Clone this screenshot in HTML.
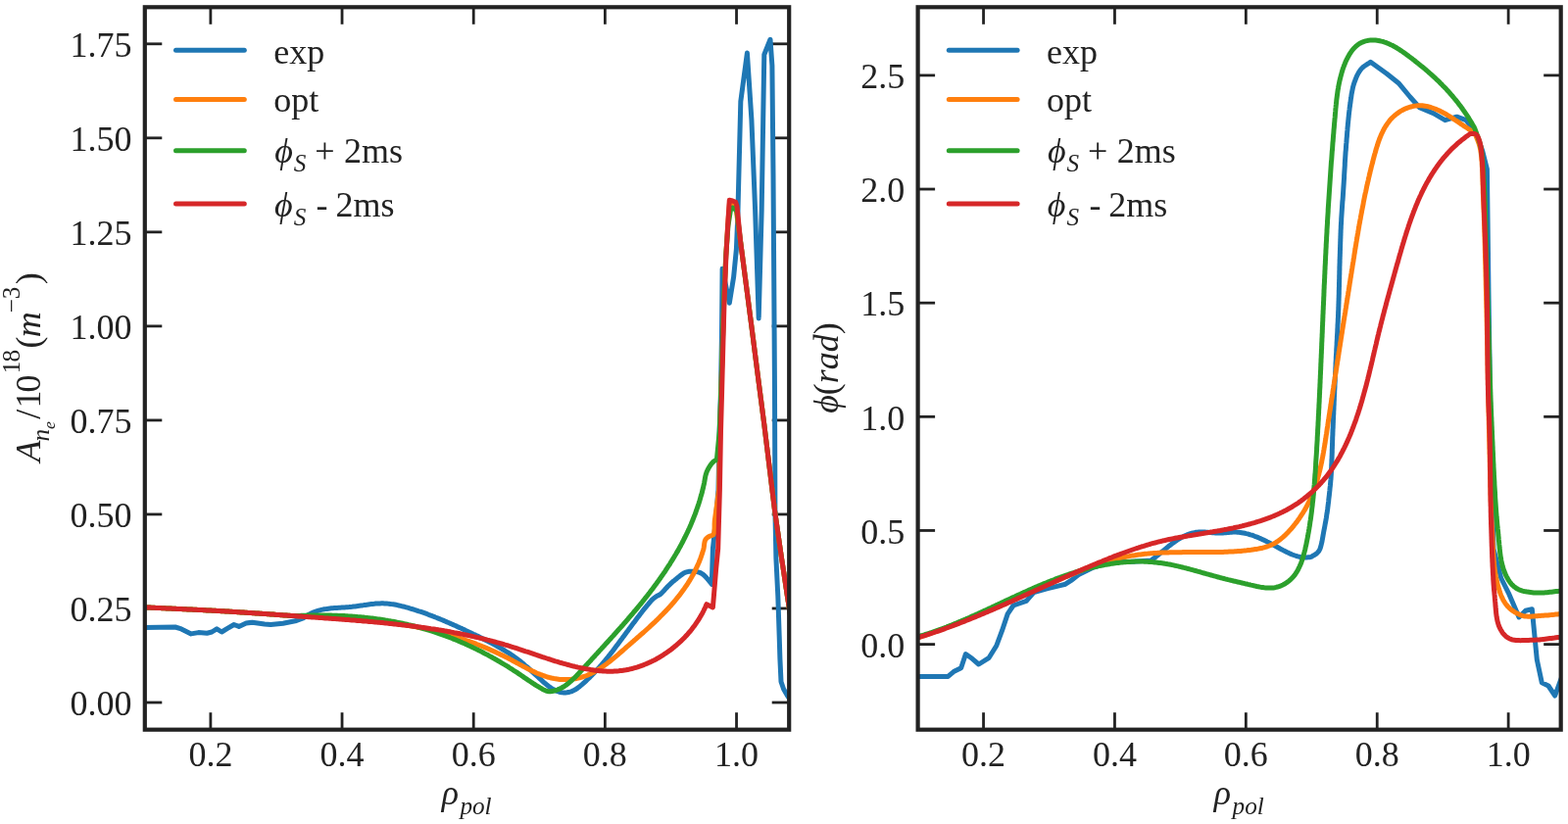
<!DOCTYPE html><html><head><meta charset="utf-8"><title>profiles</title>
<style>html,body{margin:0;padding:0;background:#fff;}svg{display:block;}text{font-family:"Liberation Serif","Times New Roman",serif;fill:#222;}.it{font-style:italic;}</style></head><body>
<svg width="1600" height="841" viewBox="0 0 1600 841">
<rect width="1600" height="841" fill="#fff"/>
<clipPath id="cl"><rect x="147.8" y="7.3" width="657.4000000000001" height="737.4000000000001"/></clipPath>
<clipPath id="cr"><rect x="936.6" y="7.3" width="656.1" height="737.4000000000001"/></clipPath>
<g stroke="#222222" stroke-width="2.8" stroke-linecap="butt">
<line x1="214.88" y1="744.70" x2="214.88" y2="727.20"/>
<line x1="214.88" y1="7.30" x2="214.88" y2="24.80"/>
<line x1="349.04" y1="744.70" x2="349.04" y2="727.20"/>
<line x1="349.04" y1="7.30" x2="349.04" y2="24.80"/>
<line x1="483.21" y1="744.70" x2="483.21" y2="727.20"/>
<line x1="483.21" y1="7.30" x2="483.21" y2="24.80"/>
<line x1="617.37" y1="744.70" x2="617.37" y2="727.20"/>
<line x1="617.37" y1="7.30" x2="617.37" y2="24.80"/>
<line x1="751.53" y1="744.70" x2="751.53" y2="727.20"/>
<line x1="751.53" y1="7.30" x2="751.53" y2="24.80"/>
<line x1="147.80" y1="717.00" x2="165.30" y2="717.00"/>
<line x1="805.20" y1="717.00" x2="787.70" y2="717.00"/>
<line x1="147.80" y1="620.97" x2="165.30" y2="620.97"/>
<line x1="805.20" y1="620.97" x2="787.70" y2="620.97"/>
<line x1="147.80" y1="524.94" x2="165.30" y2="524.94"/>
<line x1="805.20" y1="524.94" x2="787.70" y2="524.94"/>
<line x1="147.80" y1="428.91" x2="165.30" y2="428.91"/>
<line x1="805.20" y1="428.91" x2="787.70" y2="428.91"/>
<line x1="147.80" y1="332.88" x2="165.30" y2="332.88"/>
<line x1="805.20" y1="332.88" x2="787.70" y2="332.88"/>
<line x1="147.80" y1="236.85" x2="165.30" y2="236.85"/>
<line x1="805.20" y1="236.85" x2="787.70" y2="236.85"/>
<line x1="147.80" y1="140.82" x2="165.30" y2="140.82"/>
<line x1="805.20" y1="140.82" x2="787.70" y2="140.82"/>
<line x1="147.80" y1="44.79" x2="165.30" y2="44.79"/>
<line x1="805.20" y1="44.79" x2="787.70" y2="44.79"/>
<line x1="1003.55" y1="744.70" x2="1003.55" y2="727.20"/>
<line x1="1003.55" y1="7.30" x2="1003.55" y2="24.80"/>
<line x1="1137.45" y1="744.70" x2="1137.45" y2="727.20"/>
<line x1="1137.45" y1="7.30" x2="1137.45" y2="24.80"/>
<line x1="1271.34" y1="744.70" x2="1271.34" y2="727.20"/>
<line x1="1271.34" y1="7.30" x2="1271.34" y2="24.80"/>
<line x1="1405.24" y1="744.70" x2="1405.24" y2="727.20"/>
<line x1="1405.24" y1="7.30" x2="1405.24" y2="24.80"/>
<line x1="1539.14" y1="744.70" x2="1539.14" y2="727.20"/>
<line x1="1539.14" y1="7.30" x2="1539.14" y2="24.80"/>
<line x1="936.60" y1="657.60" x2="954.10" y2="657.60"/>
<line x1="1592.70" y1="657.60" x2="1575.20" y2="657.60"/>
<line x1="936.60" y1="541.46" x2="954.10" y2="541.46"/>
<line x1="1592.70" y1="541.46" x2="1575.20" y2="541.46"/>
<line x1="936.60" y1="425.32" x2="954.10" y2="425.32"/>
<line x1="1592.70" y1="425.32" x2="1575.20" y2="425.32"/>
<line x1="936.60" y1="309.18" x2="954.10" y2="309.18"/>
<line x1="1592.70" y1="309.18" x2="1575.20" y2="309.18"/>
<line x1="936.60" y1="193.04" x2="954.10" y2="193.04"/>
<line x1="1592.70" y1="193.04" x2="1575.20" y2="193.04"/>
<line x1="936.60" y1="76.90" x2="954.10" y2="76.90"/>
<line x1="1592.70" y1="76.90" x2="1575.20" y2="76.90"/>
</g>
<g clip-path="url(#cl)">
<path d="M147.0,640.6 L178.8,640.0 L185.0,641.9 L195.0,646.9 L202.5,645.6 L211.2,646.2 L216.2,645.0 L221.2,641.9 L226.2,645.0 L232.5,641.2 L238.8,637.5 L243.8,639.4 L251.2,636.0 L257.5,635.2 L270.0,636.9 L276.2,637.5 L288.8,636.2 L301.2,633.8 L310.0,630.6 L311.3,629.6 L312.6,628.7 L314.0,627.9 L315.3,627.1 L316.6,626.4 L318.0,625.7 L319.4,625.1 L320.8,624.6 L322.2,624.1 L323.6,623.6 L325.0,623.2 L326.4,622.8 L327.9,622.4 L329.3,622.1 L330.8,621.8 L332.2,621.6 L333.7,621.4 L335.2,621.2 L336.7,621.0 L338.2,620.8 L339.6,620.7 L341.1,620.6 L342.6,620.5 L344.1,620.4 L345.7,620.3 L347.2,620.2 L348.7,620.1 L350.2,620.0 L351.7,619.9 L353.2,619.8 L354.7,619.7 L356.3,619.6 L357.8,619.4 L359.3,619.3 L360.8,619.1 L362.3,618.9 L363.8,618.7 L365.3,618.5 L366.8,618.3 L368.4,618.1 L369.9,617.9 L371.4,617.6 L372.9,617.4 L374.4,617.2 L375.9,617.0 L377.4,616.8 L378.9,616.6 L380.4,616.4 L381.9,616.3 L383.4,616.1 L384.9,616.0 L386.4,615.9 L387.8,615.9 L389.3,615.8 L390.8,615.8 L392.3,615.9 L393.8,615.9 L395.3,616.1 L396.8,616.2 L398.3,616.4 L399.7,616.6 L401.2,616.8 L402.7,617.0 L404.2,617.3 L405.6,617.6 L407.1,618.0 L408.6,618.3 L410.0,618.7 L411.5,619.0 L413.0,619.4 L414.4,619.8 L415.9,620.2 L417.3,620.6 L418.8,621.1 L420.2,621.5 L421.6,621.9 L423.1,622.4 L424.5,622.8 L426.0,623.3 L427.4,623.8 L428.8,624.2 L430.2,624.7 L431.7,625.2 L433.1,625.7 L434.5,626.2 L435.9,626.7 L437.3,627.3 L438.7,627.8 L440.1,628.3 L441.5,628.9 L442.9,629.4 L444.3,630.0 L445.7,630.5 L447.1,631.1 L448.5,631.6 L449.9,632.2 L451.3,632.8 L452.7,633.4 L454.1,634.0 L455.5,634.6 L456.9,635.2 L458.3,635.8 L459.6,636.4 L461.0,637.0 L462.4,637.6 L463.8,638.2 L465.2,638.8 L466.5,639.5 L467.9,640.1 L469.3,640.7 L470.7,641.3 L472.0,642.0 L473.4,642.6 L474.8,643.3 L476.1,643.9 L477.5,644.6 L478.9,645.2 L480.2,645.9 L481.6,646.5 L483.0,647.2 L484.4,647.8 L485.7,648.5 L487.1,649.1 L488.5,649.8 L489.8,650.5 L491.2,651.1 L492.5,651.8 L493.9,652.5 L495.3,653.2 L496.6,653.9 L498.0,654.5 L499.3,655.2 L500.6,655.9 L502.0,656.6 L503.3,657.4 L504.6,658.1 L506.0,658.8 L507.3,659.5 L508.6,660.3 L509.9,661.0 L511.2,661.7 L512.5,662.5 L513.8,663.3 L515.1,664.0 L516.3,664.8 L517.6,665.6 L518.9,666.4 L520.1,667.2 L521.4,668.1 L522.6,668.9 L523.8,669.7 L525.0,670.6 L526.2,671.4 L527.4,672.3 L528.6,673.2 L529.8,674.1 L531.0,675.0 L532.1,675.9 L533.3,676.9 L534.4,677.8 L535.5,678.8 L536.7,679.8 L537.8,680.7 L538.9,681.7 L540.0,682.7 L541.1,683.7 L542.2,684.8 L543.4,685.8 L544.5,686.8 L545.6,687.9 L546.7,688.9 L547.9,690.0 L549.0,691.0 L550.2,692.1 L551.4,693.2 L552.5,694.2 L553.7,695.3 L554.9,696.4 L556.2,697.4 L557.4,698.5 L558.7,699.5 L559.9,700.4 L561.2,701.4 L562.5,702.3 L563.8,703.1 L565.1,703.8 L566.4,704.5 L567.7,705.2 L569.0,705.7 L570.4,706.1 L571.7,706.5 L573.1,706.7 L574.5,706.9 L575.9,706.9 L577.2,706.9 L578.6,706.8 L580.0,706.5 L581.3,706.2 L582.7,705.8 L584.0,705.3 L585.3,704.7 L586.6,704.1 L587.8,703.3 L589.1,702.5 L590.3,701.6 L591.5,700.7 L592.7,699.7 L593.9,698.7 L595.0,697.7 L596.2,696.6 L597.3,695.6 L598.4,694.6 L599.5,693.5 L600.6,692.5 L601.7,691.4 L602.8,690.3 L603.9,689.2 L605.0,688.1 L606.0,687.0 L607.1,685.9 L608.1,684.8 L609.1,683.7 L610.2,682.6 L611.2,681.5 L612.2,680.3 L613.2,679.2 L614.2,678.0 L615.2,676.9 L616.1,675.7 L617.1,674.6 L618.1,673.4 L619.0,672.2 L620.0,671.1 L620.9,669.9 L621.9,668.7 L622.8,667.5 L623.7,666.3 L624.7,665.1 L625.6,663.9 L626.5,662.7 L627.4,661.5 L628.3,660.3 L629.2,659.1 L630.1,657.9 L631.0,656.7 L631.9,655.5 L632.8,654.3 L633.7,653.1 L634.6,651.9 L635.5,650.6 L636.4,649.4 L637.3,648.2 L638.2,647.0 L639.1,645.8 L640.0,644.6 L640.9,643.4 L641.8,642.1 L642.7,640.9 L643.6,639.7 L644.5,638.5 L645.4,637.3 L646.3,636.1 L647.2,634.9 L648.1,633.7 L649.0,632.5 L649.9,631.3 L650.8,630.1 L651.7,628.9 L652.6,627.7 L653.5,626.5 L654.5,625.3 L655.4,624.1 L656.3,622.9 L657.3,621.7 L658.2,620.6 L659.2,619.4 L660.1,618.2 L661.1,617.1 L662.1,615.9 L663.0,614.8 L664.0,613.6 L665.0,612.5 L666.5,611.2 L668.0,609.9 L669.5,608.8 L670.9,608.0 L672.4,607.4 L673.9,606.5 L674.9,605.6 L675.9,604.6 L677.0,603.4 L678.1,602.2 L679.2,600.9 L680.3,599.7 L681.4,598.5 L682.6,597.4 L683.7,596.3 L684.9,595.2 L686.1,594.1 L687.4,593.1 L688.6,592.0 L689.9,591.0 L691.2,589.9 L692.6,588.8 L694.0,587.6 L695.4,586.6 L696.8,585.6 L698.2,584.7 L699.6,584.1 L701.5,583.6 L703.3,583.3 L705.1,583.2 L707.0,583.3 L708.7,583.4 L710.5,583.6 L712.3,583.9 L714.0,584.4 L715.6,585.1 L717.0,586.0 L718.4,587.2 L719.7,588.4 L720.9,589.7 L722.0,591.0 L723.2,592.3 L724.2,593.7 L725.3,595.0 L726.3,596.4 L727.4,560.0 L729.0,545.0 L733.0,500.0 L734.2,440.0 L735.5,400.0 L736.5,340.0 L737.1,274.3 L744.3,309.3 L748.6,282.9 L751.4,254.3 L752.9,218.6 L753.6,190.0 L755.8,103.7 L762.4,54.0 L766.9,122.2 L770.6,214.3 L774.2,324.9 L777.2,214.3 L778.7,122.2 L779.8,55.8 L786.0,40.3 L787.9,66.9 L789.0,177.5 L790.1,337.8 L790.5,400.0 L790.9,520.4 L791.9,570.0 L793.8,608.0 L795.2,649.5 L795.9,672.1 L797.0,695.7 L799.6,703.2 L803.9,710.7 L806.5,714.5" fill="none" stroke="#1f77b4" stroke-width="5.0" stroke-linejoin="round" stroke-linecap="butt"/>
<path d="M147.0,619.8 L148.5,619.9 L150.0,619.9 L151.5,620.0 L153.1,620.1 L154.6,620.2 L156.1,620.2 L157.6,620.3 L159.1,620.4 L160.7,620.5 L162.2,620.5 L163.7,620.6 L165.2,620.7 L166.8,620.7 L168.3,620.8 L169.8,620.9 L171.4,621.0 L172.9,621.0 L174.4,621.1 L176.0,621.2 L177.5,621.2 L179.0,621.3 L180.5,621.4 L182.1,621.5 L183.6,621.5 L185.1,621.6 L186.7,621.7 L188.2,621.7 L189.7,621.8 L191.2,621.9 L192.8,622.0 L194.3,622.0 L195.8,622.1 L197.3,622.2 L198.8,622.3 L200.3,622.3 L201.9,622.4 L203.4,622.5 L204.9,622.6 L206.4,622.6 L207.9,622.7 L209.4,622.8 L210.9,622.9 L212.4,622.9 L213.9,623.0 L215.3,623.1 L216.8,623.2 L218.3,623.2 L219.8,623.3 L221.3,623.4 L222.7,623.5 L224.2,623.6 L225.6,623.7 L227.1,623.7 L228.6,623.8 L230.0,623.9 L231.6,624.0 L233.2,624.1 L234.7,624.2 L236.3,624.3 L237.9,624.4 L239.4,624.5 L241.0,624.6 L242.5,624.7 L244.1,624.8 L245.6,624.9 L247.2,625.0 L248.7,625.1 L250.2,625.2 L251.7,625.3 L253.3,625.4 L254.8,625.5 L256.3,625.6 L257.8,625.7 L259.3,625.8 L260.9,625.9 L262.4,626.0 L263.9,626.1 L265.4,626.2 L266.9,626.3 L268.4,626.4 L269.9,626.5 L271.4,626.6 L272.9,626.7 L274.4,626.8 L275.9,626.9 L277.4,627.0 L278.9,627.1 L280.4,627.2 L281.9,627.4 L283.4,627.5 L284.9,627.6 L286.4,627.7 L287.9,627.8 L289.4,627.9 L290.9,628.0 L292.4,628.1 L293.9,628.2 L295.4,628.3 L297.0,628.4 L298.5,628.5 L300.0,628.6 L301.5,628.6 L303.0,628.7 L304.6,628.7 L306.1,628.7 L307.6,628.8 L309.1,628.8 L310.7,628.8 L312.2,628.9 L313.7,628.9 L315.2,629.0 L316.7,629.0 L318.3,629.1 L319.8,629.1 L321.3,629.2 L322.8,629.2 L324.3,629.3 L325.8,629.3 L327.4,629.4 L328.9,629.5 L330.4,629.5 L331.9,629.6 L333.4,629.7 L334.9,629.7 L336.5,629.8 L338.0,629.9 L339.5,630.0 L341.0,630.0 L342.5,630.1 L344.0,630.2 L345.5,630.3 L347.0,630.4 L348.6,630.5 L350.1,630.6 L351.6,630.7 L353.1,630.8 L354.6,630.9 L356.1,631.0 L357.6,631.1 L359.1,631.2 L360.6,631.3 L362.1,631.5 L363.6,631.6 L365.1,631.7 L366.6,631.8 L368.1,632.0 L369.6,632.1 L371.1,632.2 L372.6,632.4 L374.1,632.5 L375.6,632.7 L377.1,632.8 L378.6,633.0 L380.1,633.2 L381.6,633.3 L383.1,633.5 L384.6,633.7 L386.1,633.8 L387.6,634.0 L389.1,634.2 L390.6,634.4 L392.1,634.6 L393.6,634.8 L395.1,635.0 L396.5,635.2 L398.0,635.4 L399.5,635.6 L401.0,635.8 L402.5,636.0 L404.0,636.2 L405.5,636.5 L406.9,636.7 L408.4,636.9 L409.9,637.2 L411.4,637.4 L412.8,637.7 L414.3,637.9 L415.8,638.2 L417.3,638.5 L418.7,638.7 L420.2,639.0 L421.7,639.3 L423.2,639.6 L424.6,639.9 L426.1,640.2 L427.6,640.4 L429.0,640.8 L430.5,641.1 L431.9,641.4 L433.4,641.7 L434.9,642.0 L436.3,642.3 L437.8,642.7 L439.2,643.0 L440.7,643.4 L442.1,643.7 L443.6,644.1 L445.1,644.4 L446.5,644.8 L448.0,645.2 L449.4,645.5 L450.8,645.9 L452.3,646.3 L453.7,646.7 L455.2,647.1 L456.6,647.5 L458.1,647.9 L459.5,648.4 L460.9,648.8 L462.4,649.2 L463.8,649.6 L465.2,650.1 L466.7,650.5 L468.1,651.0 L469.5,651.5 L470.9,651.9 L472.4,652.4 L473.8,652.9 L475.2,653.4 L476.6,653.8 L478.1,654.3 L479.5,654.9 L480.9,655.4 L482.3,655.9 L483.7,656.4 L485.1,656.9 L486.5,657.5 L487.9,658.0 L489.3,658.6 L490.7,659.1 L492.2,659.7 L493.6,660.3 L495.0,660.9 L496.3,661.4 L497.7,662.0 L499.1,662.6 L500.5,663.2 L501.9,663.9 L503.3,664.5 L504.7,665.1 L506.1,665.7 L507.5,666.4 L508.8,667.0 L510.2,667.7 L511.6,668.4 L513.0,669.0 L514.4,669.7 L515.7,670.4 L517.1,671.1 L518.5,671.8 L519.8,672.5 L521.2,673.2 L522.6,674.0 L523.9,674.7 L525.3,675.4 L526.6,676.2 L528.0,676.9 L529.4,677.7 L530.7,678.4 L532.1,679.1 L533.4,679.9 L534.8,680.6 L536.2,681.3 L537.5,682.0 L538.9,682.7 L540.3,683.4 L541.6,684.1 L543.0,684.8 L544.4,685.4 L545.8,686.0 L547.1,686.7 L548.5,687.3 L549.9,687.8 L551.3,688.4 L552.7,688.9 L554.1,689.5 L555.5,689.9 L556.9,690.4 L558.3,690.8 L559.7,691.3 L561.2,691.6 L562.6,692.0 L564.0,692.3 L565.5,692.6 L566.9,692.8 L568.4,693.0 L569.8,693.2 L571.3,693.4 L572.8,693.5 L574.2,693.5 L575.7,693.6 L577.2,693.6 L578.6,693.6 L580.1,693.5 L581.6,693.4 L583.0,693.3 L584.5,693.1 L585.9,692.9 L587.3,692.7 L588.8,692.4 L590.2,692.1 L591.6,691.7 L593.0,691.4 L594.4,690.9 L595.8,690.5 L597.2,690.0 L598.6,689.5 L599.9,688.9 L601.3,688.3 L602.6,687.7 L603.9,687.1 L605.2,686.4 L606.6,685.7 L607.9,684.9 L609.2,684.2 L610.4,683.4 L611.7,682.6 L613.0,681.8 L614.2,680.9 L615.5,680.1 L616.7,679.2 L618.0,678.3 L619.2,677.4 L620.4,676.4 L621.7,675.5 L622.9,674.5 L624.1,673.5 L625.3,672.6 L626.5,671.6 L627.7,670.6 L628.9,669.6 L630.1,668.6 L631.3,667.6 L632.4,666.5 L633.6,665.5 L634.8,664.5 L636.0,663.5 L637.1,662.5 L638.3,661.4 L639.4,660.4 L640.6,659.4 L641.8,658.4 L642.9,657.4 L644.1,656.4 L645.2,655.4 L646.4,654.4 L647.5,653.4 L648.7,652.4 L649.8,651.4 L650.9,650.4 L652.1,649.4 L653.2,648.4 L654.3,647.4 L655.4,646.5 L656.6,645.5 L657.7,644.5 L658.8,643.5 L659.9,642.5 L661.0,641.5 L662.1,640.5 L663.2,639.4 L664.3,638.4 L665.4,637.4 L666.5,636.4 L667.6,635.4 L668.6,634.4 L669.7,633.3 L670.8,632.3 L671.9,631.2 L672.9,630.2 L674.0,629.1 L675.0,628.1 L676.1,627.0 L677.1,625.9 L678.2,624.9 L679.2,623.8 L680.2,622.7 L681.3,621.6 L682.3,620.5 L683.3,619.4 L684.3,618.3 L685.3,617.1 L686.3,616.0 L687.3,614.9 L688.2,613.7 L689.2,612.6 L690.1,611.4 L691.1,610.3 L692.0,609.1 L693.0,607.9 L693.9,606.7 L694.8,605.5 L695.7,604.3 L696.6,603.1 L697.4,601.9 L698.3,600.7 L699.2,599.4 L700.0,598.2 L700.9,597.0 L701.7,595.7 L702.5,594.4 L703.3,593.2 L704.1,591.9 L704.8,590.6 L705.6,589.3 L706.3,588.0 L707.1,586.7 L707.8,585.4 L708.5,584.0 L709.2,582.7 L709.8,581.3 L710.5,580.0 L711.1,578.6 L711.8,577.2 L712.4,575.8 L713.0,574.5 L713.6,573.1 L714.1,571.6 L714.7,570.2 L715.2,568.8 L715.7,567.3 L716.2,565.9 L716.7,564.4 L717.1,563.0 L717.6,561.5 L718.0,560.0 L718.3,558.4 L718.5,556.6 L718.7,554.9 L719.0,553.2 L719.4,551.8 L720.0,550.5 L721.3,549.1 L722.8,548.0 L724.3,547.1 L726.2,546.6 L727.9,545.7 L728.4,544.8 L728.7,543.5 L728.9,542.1 L729.0,540.4 L729.1,538.6 L729.1,536.7 L729.1,534.9 L729.2,533.1 L729.3,531.4 L733.6,500.0 L734.7,440.0 L735.8,400.0 L737.3,350.0 L738.6,309.3 L740.7,261.4 L742.9,227.0 L744.5,207.0 L747.5,207.5 L750.5,209.0 L755.7,247.1 L762.6,300.0 L768.0,341.7 L773.3,383.3 L779.8,433.3 L790.4,520.0 L797.6,570.0 L800.5,589.0 L803.3,608.0 L806.5,628.0" fill="none" stroke="#ff7f0e" stroke-width="5.0" stroke-linejoin="round" stroke-linecap="butt"/>
<path d="M147.0,619.8 L148.5,619.9 L150.0,619.9 L151.5,620.0 L153.1,620.1 L154.6,620.2 L156.1,620.2 L157.6,620.3 L159.1,620.4 L160.7,620.5 L162.2,620.5 L163.7,620.6 L165.2,620.7 L166.8,620.7 L168.3,620.8 L169.8,620.9 L171.4,621.0 L172.9,621.0 L174.4,621.1 L176.0,621.2 L177.5,621.2 L179.0,621.3 L180.5,621.4 L182.1,621.5 L183.6,621.5 L185.1,621.6 L186.7,621.7 L188.2,621.7 L189.7,621.8 L191.2,621.9 L192.8,622.0 L194.3,622.0 L195.8,622.1 L197.3,622.2 L198.8,622.3 L200.3,622.3 L201.9,622.4 L203.4,622.5 L204.9,622.6 L206.4,622.6 L207.9,622.7 L209.4,622.8 L210.9,622.9 L212.4,622.9 L213.9,623.0 L215.3,623.1 L216.8,623.2 L218.3,623.2 L219.8,623.3 L221.3,623.4 L222.7,623.5 L224.2,623.6 L225.6,623.7 L227.1,623.7 L228.6,623.8 L230.0,623.9 L231.6,624.0 L233.2,624.1 L234.7,624.2 L236.3,624.3 L237.9,624.4 L239.4,624.5 L241.0,624.6 L242.5,624.7 L244.1,624.8 L245.6,624.9 L247.2,625.0 L248.7,625.1 L250.2,625.2 L251.7,625.3 L253.3,625.4 L254.8,625.5 L256.3,625.6 L257.8,625.7 L259.3,625.8 L260.9,625.9 L262.4,626.0 L263.9,626.1 L265.4,626.2 L266.9,626.3 L268.4,626.4 L269.9,626.5 L271.4,626.6 L272.9,626.7 L274.4,626.8 L275.9,626.9 L277.4,627.0 L278.9,627.1 L280.4,627.2 L281.9,627.4 L283.4,627.5 L284.9,627.6 L286.4,627.7 L287.9,627.8 L289.4,627.9 L290.9,628.0 L292.4,628.1 L293.9,628.2 L295.4,628.3 L297.0,628.4 L298.5,628.5 L300.0,628.6 L301.5,628.5 L303.0,628.5 L304.5,628.4 L306.0,628.4 L307.6,628.3 L309.1,628.3 L310.6,628.2 L312.1,628.2 L313.6,628.1 L315.1,628.1 L316.6,628.1 L318.1,628.1 L319.6,628.0 L321.2,628.0 L322.7,628.0 L324.2,628.0 L325.7,628.0 L327.2,628.0 L328.7,628.0 L330.2,628.0 L331.7,628.0 L333.2,628.0 L334.7,628.1 L336.3,628.1 L337.8,628.1 L339.3,628.2 L340.8,628.2 L342.3,628.3 L343.8,628.3 L345.3,628.4 L346.8,628.4 L348.3,628.5 L349.8,628.6 L351.3,628.6 L352.8,628.7 L354.3,628.8 L355.8,628.9 L357.3,629.0 L358.8,629.1 L360.3,629.2 L361.8,629.3 L363.3,629.4 L364.8,629.6 L366.3,629.7 L367.8,629.8 L369.3,630.0 L370.8,630.1 L372.3,630.3 L373.8,630.4 L375.3,630.6 L376.8,630.7 L378.3,630.9 L379.8,631.1 L381.3,631.3 L382.8,631.5 L384.3,631.7 L385.7,631.9 L387.2,632.1 L388.7,632.3 L390.2,632.5 L391.7,632.7 L393.2,633.0 L394.7,633.2 L396.1,633.5 L397.6,633.7 L399.1,634.0 L400.6,634.2 L402.0,634.5 L403.5,634.8 L405.0,635.1 L406.5,635.4 L407.9,635.7 L409.4,636.0 L410.9,636.3 L412.3,636.6 L413.8,636.9 L415.3,637.2 L416.7,637.6 L418.2,637.9 L419.7,638.3 L421.1,638.6 L422.6,639.0 L424.0,639.4 L425.5,639.7 L426.9,640.1 L428.4,640.5 L429.8,640.9 L431.3,641.3 L432.7,641.8 L434.2,642.2 L435.6,642.6 L437.0,643.0 L438.5,643.5 L439.9,643.9 L441.4,644.4 L442.8,644.9 L444.2,645.3 L445.7,645.8 L447.1,646.3 L448.5,646.8 L449.9,647.3 L451.4,647.8 L452.8,648.3 L454.2,648.8 L455.6,649.4 L457.0,649.9 L458.4,650.4 L459.8,651.0 L461.2,651.5 L462.6,652.1 L464.0,652.7 L465.4,653.2 L466.8,653.8 L468.2,654.4 L469.6,655.0 L471.0,655.6 L472.4,656.2 L473.8,656.8 L475.2,657.4 L476.6,658.1 L477.9,658.7 L479.3,659.3 L480.7,660.0 L482.1,660.6 L483.4,661.3 L484.8,661.9 L486.1,662.6 L487.5,663.3 L488.9,664.0 L490.2,664.6 L491.6,665.3 L492.9,666.0 L494.2,666.7 L495.6,667.4 L496.9,668.1 L498.3,668.8 L499.6,669.6 L500.9,670.3 L502.2,671.0 L503.6,671.8 L504.9,672.5 L506.2,673.3 L507.5,674.0 L508.8,674.8 L510.1,675.5 L511.4,676.3 L512.7,677.1 L514.0,677.9 L515.3,678.6 L516.6,679.4 L517.9,680.2 L519.2,681.0 L520.4,681.8 L521.7,682.6 L523.0,683.4 L524.2,684.3 L525.5,685.1 L526.8,685.9 L528.0,686.7 L529.3,687.6 L530.5,688.4 L531.8,689.3 L533.0,690.1 L534.2,691.0 L535.5,691.8 L536.7,692.7 L538.0,693.5 L539.2,694.4 L540.5,695.2 L541.7,696.0 L543.0,696.9 L544.2,697.7 L545.5,698.5 L546.8,699.3 L548.1,700.1 L549.4,700.9 L550.7,701.7 L552.0,702.4 L553.3,703.2 L554.7,703.9 L556.0,704.5 L557.4,705.1 L558.8,705.5 L560.3,705.7 L561.7,705.8 L563.2,705.6 L564.6,705.3 L566.0,704.9 L567.5,704.5 L568.8,704.0 L570.2,703.4 L571.5,702.8 L572.8,702.2 L574.0,701.5 L575.3,700.8 L576.5,700.0 L577.7,699.2 L578.8,698.3 L580.0,697.4 L581.1,696.5 L582.2,695.5 L583.3,694.6 L584.4,693.5 L585.5,692.5 L586.6,691.5 L587.6,690.4 L588.7,689.3 L589.7,688.2 L590.8,687.1 L591.8,686.0 L592.8,684.9 L593.8,683.8 L594.9,682.6 L595.9,681.5 L596.9,680.4 L597.9,679.3 L599.0,678.1 L600.0,677.0 L601.0,675.9 L602.1,674.8 L603.1,673.7 L604.1,672.5 L605.1,671.4 L606.2,670.3 L607.2,669.2 L608.2,668.0 L609.3,666.9 L610.3,665.8 L611.3,664.7 L612.3,663.5 L613.4,662.4 L614.4,661.3 L615.4,660.2 L616.5,659.1 L617.5,657.9 L618.5,656.8 L619.5,655.7 L620.6,654.5 L621.6,653.4 L622.6,652.3 L623.6,651.2 L624.6,650.0 L625.7,648.9 L626.7,647.8 L627.7,646.6 L628.7,645.5 L629.7,644.4 L630.7,643.2 L631.7,642.1 L632.8,641.0 L633.8,639.8 L634.8,638.7 L635.8,637.6 L636.8,636.4 L637.8,635.3 L638.8,634.1 L639.8,633.0 L640.8,631.8 L641.7,630.7 L642.7,629.5 L643.7,628.4 L644.7,627.2 L645.7,626.1 L646.6,624.9 L647.6,623.8 L648.6,622.6 L649.6,621.5 L650.5,620.3 L651.5,619.1 L652.4,618.0 L653.4,616.8 L654.4,615.6 L655.3,614.5 L656.2,613.3 L657.2,612.1 L658.1,610.9 L659.1,609.7 L660.0,608.6 L660.9,607.4 L661.8,606.2 L662.8,605.0 L663.7,603.8 L664.6,602.6 L665.5,601.4 L666.4,600.2 L667.3,599.0 L668.2,597.8 L669.1,596.6 L670.0,595.4 L670.8,594.2 L671.7,593.0 L672.6,591.8 L673.5,590.6 L674.3,589.3 L675.2,588.1 L676.0,586.9 L676.9,585.6 L677.7,584.4 L678.6,583.2 L679.4,581.9 L680.2,580.7 L681.0,579.4 L681.8,578.2 L682.6,576.9 L683.5,575.7 L684.2,574.4 L685.0,573.2 L685.8,571.9 L686.6,570.6 L687.4,569.4 L688.1,568.1 L688.9,566.8 L689.7,565.5 L690.4,564.2 L691.2,563.0 L691.9,561.7 L692.6,560.4 L693.3,559.1 L694.1,557.8 L694.8,556.4 L695.5,555.1 L696.2,553.8 L696.9,552.5 L697.5,551.2 L698.2,549.8 L698.9,548.5 L699.5,547.2 L700.2,545.8 L700.8,544.5 L701.5,543.1 L702.1,541.8 L702.7,540.4 L703.4,539.1 L704.0,537.7 L704.6,536.3 L705.2,534.9 L705.7,533.6 L706.3,532.2 L706.9,530.8 L707.4,529.4 L708.0,528.0 L708.5,526.6 L709.1,525.2 L709.6,523.8 L710.1,522.4 L710.6,520.9 L711.1,519.5 L711.6,518.1 L712.1,516.6 L712.6,515.2 L713.1,513.7 L713.5,512.3 L714.0,510.8 L714.4,509.4 L714.8,507.9 L715.2,506.4 L715.7,504.9 L716.1,503.5 L716.5,502.0 L716.8,500.5 L717.2,499.0 L717.6,497.5 L717.9,495.9 L718.3,494.4 L718.6,492.9 L718.9,491.2 L719.2,489.5 L719.5,487.8 L719.8,486.1 L720.2,484.5 L720.7,482.9 L721.3,481.3 L722.0,479.8 L722.7,478.4 L723.5,477.0 L724.3,475.7 L725.3,474.3 L726.4,472.9 L727.5,471.7 L728.6,470.7 L730.0,469.9 L731.4,469.3 L734.2,440.0 L735.8,400.0 L737.4,350.0 L738.9,300.0 L740.8,260.0 L743.0,230.0 L745.5,214.0 L747.5,212.0 L749.5,213.0 L752.0,216.0 L755.7,247.1 L762.6,300.0 L768.0,341.7 L773.3,383.3 L779.8,433.3 L790.4,520.0 L797.6,570.0 L800.5,589.0 L803.3,608.0 L806.5,628.0" fill="none" stroke="#2ca02c" stroke-width="5.0" stroke-linejoin="round" stroke-linecap="butt"/>
<path d="M147.0,619.8 L148.5,619.9 L150.0,619.9 L151.5,620.0 L153.1,620.1 L154.6,620.2 L156.1,620.2 L157.6,620.3 L159.1,620.4 L160.7,620.5 L162.2,620.5 L163.7,620.6 L165.2,620.7 L166.8,620.7 L168.3,620.8 L169.8,620.9 L171.4,621.0 L172.9,621.0 L174.4,621.1 L176.0,621.2 L177.5,621.2 L179.0,621.3 L180.5,621.4 L182.1,621.5 L183.6,621.5 L185.1,621.6 L186.7,621.7 L188.2,621.7 L189.7,621.8 L191.2,621.9 L192.8,622.0 L194.3,622.0 L195.8,622.1 L197.3,622.2 L198.8,622.3 L200.3,622.3 L201.9,622.4 L203.4,622.5 L204.9,622.6 L206.4,622.6 L207.9,622.7 L209.4,622.8 L210.9,622.9 L212.4,622.9 L213.9,623.0 L215.3,623.1 L216.8,623.2 L218.3,623.2 L219.8,623.3 L221.3,623.4 L222.7,623.5 L224.2,623.6 L225.6,623.7 L227.1,623.7 L228.6,623.8 L230.0,623.9 L231.6,624.0 L233.2,624.1 L234.7,624.2 L236.3,624.3 L237.9,624.4 L239.4,624.5 L241.0,624.6 L242.5,624.7 L244.1,624.8 L245.6,624.9 L247.2,625.0 L248.7,625.1 L250.2,625.2 L251.7,625.3 L253.3,625.4 L254.8,625.5 L256.3,625.6 L257.8,625.7 L259.3,625.8 L260.9,625.9 L262.4,626.0 L263.9,626.1 L265.4,626.2 L266.9,626.3 L268.4,626.4 L269.9,626.5 L271.4,626.6 L272.9,626.7 L274.4,626.8 L275.9,626.9 L277.4,627.0 L278.9,627.1 L280.4,627.2 L281.9,627.4 L283.4,627.5 L284.9,627.6 L286.4,627.7 L287.9,627.8 L289.4,627.9 L290.9,628.0 L292.4,628.1 L293.9,628.2 L295.4,628.3 L297.0,628.4 L298.5,628.5 L300.0,628.6 L301.5,628.7 L303.0,628.8 L304.5,628.9 L306.0,629.0 L307.5,629.1 L309.0,629.3 L310.5,629.4 L312.0,629.5 L313.5,629.6 L315.0,629.7 L316.5,629.8 L318.0,629.9 L319.5,630.0 L321.0,630.1 L322.5,630.2 L324.0,630.3 L325.5,630.4 L327.0,630.5 L328.5,630.6 L330.1,630.8 L331.6,630.9 L333.1,631.0 L334.6,631.1 L336.1,631.2 L337.6,631.3 L339.1,631.4 L340.6,631.5 L342.1,631.6 L343.6,631.7 L345.1,631.8 L346.6,632.0 L348.1,632.1 L349.6,632.2 L351.1,632.3 L352.6,632.4 L354.1,632.5 L355.6,632.6 L357.1,632.8 L358.7,632.9 L360.2,633.0 L361.7,633.1 L363.2,633.2 L364.7,633.4 L366.2,633.5 L367.7,633.6 L369.2,633.7 L370.7,633.9 L372.2,634.0 L373.7,634.1 L375.2,634.2 L376.7,634.4 L378.2,634.5 L379.7,634.6 L381.2,634.8 L382.7,634.9 L384.2,635.1 L385.7,635.2 L387.2,635.3 L388.7,635.5 L390.2,635.6 L391.7,635.8 L393.2,635.9 L394.8,636.1 L396.3,636.2 L397.8,636.4 L399.3,636.5 L400.8,636.7 L402.3,636.9 L403.8,637.0 L405.3,637.2 L406.8,637.4 L408.3,637.5 L409.8,637.7 L411.3,637.9 L412.8,638.1 L414.2,638.2 L415.7,638.4 L417.2,638.6 L418.7,638.8 L420.2,639.0 L421.7,639.2 L423.2,639.3 L424.7,639.5 L426.2,639.7 L427.7,639.9 L429.2,640.1 L430.7,640.4 L432.2,640.6 L433.7,640.8 L435.2,641.0 L436.7,641.2 L438.2,641.4 L439.6,641.7 L441.1,641.9 L442.6,642.1 L444.1,642.3 L445.6,642.6 L447.1,642.8 L448.6,643.1 L450.1,643.3 L451.6,643.5 L453.0,643.8 L454.5,644.1 L456.0,644.3 L457.5,644.6 L459.0,644.8 L460.5,645.1 L461.9,645.4 L463.4,645.7 L464.9,645.9 L466.4,646.2 L467.9,646.5 L469.3,646.8 L470.8,647.1 L472.3,647.4 L473.8,647.7 L475.2,648.0 L476.7,648.3 L478.2,648.6 L479.7,648.9 L481.1,649.3 L482.6,649.6 L484.1,649.9 L485.5,650.3 L487.0,650.6 L488.5,650.9 L489.9,651.3 L491.4,651.6 L492.9,652.0 L494.3,652.3 L495.8,652.7 L497.3,653.1 L498.7,653.4 L500.2,653.8 L501.6,654.2 L503.1,654.6 L504.6,655.0 L506.0,655.4 L507.5,655.8 L508.9,656.2 L510.4,656.6 L511.8,657.0 L513.3,657.4 L514.7,657.9 L516.2,658.3 L517.6,658.7 L519.1,659.2 L520.5,659.6 L522.0,660.1 L523.4,660.5 L524.9,661.0 L526.3,661.4 L527.8,661.9 L529.2,662.4 L530.6,662.8 L532.1,663.3 L533.5,663.8 L535.0,664.3 L536.4,664.8 L537.8,665.2 L539.3,665.7 L540.7,666.2 L542.2,666.7 L543.6,667.2 L545.0,667.7 L546.5,668.2 L547.9,668.6 L549.3,669.1 L550.8,669.6 L552.2,670.1 L553.7,670.6 L555.1,671.0 L556.5,671.5 L558.0,672.0 L559.4,672.5 L560.9,672.9 L562.3,673.4 L563.7,673.8 L565.2,674.3 L566.6,674.8 L568.1,675.2 L569.5,675.6 L571.0,676.1 L572.4,676.5 L573.8,676.9 L575.3,677.3 L576.7,677.7 L578.2,678.1 L579.6,678.5 L581.1,678.9 L582.5,679.3 L584.0,679.7 L585.5,680.0 L586.9,680.4 L588.4,680.7 L589.8,681.1 L591.3,681.4 L592.8,681.7 L594.2,682.0 L595.7,682.3 L597.2,682.6 L598.6,682.8 L600.1,683.1 L601.6,683.3 L603.1,683.6 L604.5,683.8 L606.0,684.0 L607.5,684.2 L609.0,684.4 L610.5,684.5 L612.0,684.7 L613.5,684.8 L615.0,684.9 L616.5,685.0 L618.0,685.1 L619.4,685.2 L620.9,685.2 L622.4,685.2 L623.9,685.2 L625.4,685.2 L626.9,685.1 L628.4,685.0 L629.9,684.9 L631.4,684.8 L632.9,684.6 L634.4,684.4 L635.9,684.2 L637.3,684.0 L638.8,683.8 L640.3,683.5 L641.8,683.2 L643.2,682.8 L644.7,682.5 L646.2,682.1 L647.6,681.7 L649.1,681.3 L650.5,680.9 L651.9,680.4 L653.4,679.9 L654.8,679.4 L656.2,678.9 L657.6,678.3 L659.0,677.7 L660.4,677.1 L661.8,676.5 L663.2,675.9 L664.6,675.3 L666.0,674.6 L667.3,673.9 L668.7,673.2 L670.0,672.5 L671.3,671.7 L672.7,671.0 L674.0,670.2 L675.3,669.4 L676.6,668.6 L677.8,667.7 L679.1,666.9 L680.4,666.0 L681.6,665.2 L682.8,664.3 L684.1,663.4 L685.3,662.5 L686.5,661.5 L687.7,660.6 L688.8,659.6 L690.0,658.7 L691.1,657.7 L692.3,656.7 L693.4,655.6 L694.5,654.6 L695.6,653.6 L696.7,652.5 L697.7,651.5 L698.8,650.4 L699.8,649.3 L700.8,648.2 L701.8,647.1 L702.8,645.9 L703.8,644.8 L704.8,643.6 L705.7,642.5 L706.6,641.3 L707.5,640.1 L708.4,638.9 L709.3,637.7 L710.2,636.4 L711.0,635.2 L711.9,633.9 L712.7,632.7 L713.5,631.4 L714.2,630.1 L715.0,628.8 L715.7,627.5 L716.5,626.2 L717.2,624.9 L717.9,623.5 L718.5,622.2 L719.2,620.8 L719.8,619.5 L720.4,618.1 L721.0,616.7 L727.4,619.9 L728.4,608.2 L730.6,581.4 L732.7,560.0 L734.4,500.0 L735.5,440.0 L736.6,400.0 L737.9,350.0 L739.0,309.3 L740.9,261.4 L742.9,225.7 L744.3,204.3 L747.5,205.0 L750.7,206.4 L752.0,210.5 L755.7,247.1 L762.6,300.0 L768.0,341.7 L773.3,383.3 L779.8,433.3 L790.4,520.0 L797.6,570.0 L800.5,589.0 L803.3,608.0 L806.5,628.0" fill="none" stroke="#d62728" stroke-width="5.0" stroke-linejoin="round" stroke-linecap="butt"/>
</g>
<g clip-path="url(#cr)">
<path d="M936.0,690.4 L967.4,690.4 L973.1,685.6 L980.7,681.8 L985.4,667.5 L992.1,672.3 L998.7,678.0 L1009.2,671.3 L1016.8,659.0 L1022.5,643.7 L1028.2,626.6 L1034.0,618.0 L1047.3,613.3 L1054.9,604.7 L1068.2,600.9 L1079.6,598.1 L1087.2,596.2 L1093.0,592.4 L1100.6,586.6 L1115.8,579.0 L1134.8,573.3 L1151.2,573.4 L1174.7,571.9 L1175.8,571.0 L1177.0,570.2 L1178.2,569.3 L1179.3,568.4 L1180.5,567.4 L1181.6,566.5 L1182.8,565.5 L1184.0,564.5 L1185.2,563.5 L1186.4,562.6 L1187.6,561.6 L1188.8,560.6 L1190.0,559.6 L1191.2,558.6 L1192.4,557.6 L1193.6,556.7 L1194.9,555.7 L1196.1,554.8 L1197.4,553.9 L1198.7,553.0 L1199.9,552.1 L1201.2,551.2 L1202.5,550.4 L1203.8,549.6 L1205.1,548.8 L1206.5,548.1 L1207.8,547.4 L1209.1,546.8 L1210.5,546.2 L1211.9,545.6 L1213.3,545.1 L1214.7,544.6 L1216.1,544.2 L1217.5,543.9 L1219.0,543.6 L1220.4,543.3 L1221.9,543.2 L1223.4,543.0 L1224.9,543.0 L1226.4,543.0 L1227.9,543.0 L1229.5,543.1 L1231.0,543.2 L1232.6,543.3 L1234.1,543.4 L1235.7,543.5 L1237.2,543.7 L1238.8,543.8 L1240.3,543.9 L1241.8,543.9 L1243.4,544.0 L1244.9,544.0 L1246.4,544.0 L1247.9,543.9 L1249.4,543.8 L1250.9,543.7 L1252.3,543.6 L1253.8,543.4 L1255.3,543.3 L1256.8,543.2 L1258.2,543.1 L1259.7,543.1 L1261.2,543.1 L1262.7,543.2 L1264.2,543.3 L1265.6,543.5 L1267.1,543.7 L1268.6,543.9 L1270.1,544.2 L1271.6,544.6 L1273.1,544.9 L1274.5,545.3 L1276.0,545.8 L1277.5,546.2 L1278.9,546.7 L1280.4,547.3 L1281.8,547.8 L1283.3,548.4 L1284.7,549.0 L1286.1,549.6 L1287.5,550.2 L1288.9,550.9 L1290.3,551.5 L1291.7,552.2 L1293.0,552.9 L1294.4,553.6 L1295.7,554.3 L1297.0,555.0 L1298.4,555.7 L1299.7,556.4 L1301.0,557.1 L1302.3,557.8 L1303.6,558.5 L1304.9,559.2 L1306.2,560.0 L1307.6,560.7 L1308.9,561.4 L1310.2,562.1 L1311.6,562.8 L1313.0,563.5 L1314.3,564.1 L1315.7,564.8 L1317.1,565.4 L1318.5,566.0 L1319.9,566.5 L1321.4,567.0 L1322.8,567.5 L1324.3,567.9 L1325.8,568.2 L1327.2,568.5 L1328.7,568.7 L1330.2,568.8 L1331.8,568.9 L1333.3,568.9 L1334.9,568.8 L1336.4,568.7 L1338.0,568.4 L1339.3,567.5 L1340.6,566.8 L1342.0,566.0 L1343.3,565.1 L1344.5,564.0 L1345.6,562.7 L1346.2,561.7 L1346.8,560.5 L1347.3,559.2 L1347.7,557.8 L1348.1,556.3 L1348.5,554.7 L1348.9,553.1 L1349.2,551.4 L1349.5,549.7 L1349.8,548.0 L1350.1,546.3 L1350.4,544.6 L1350.7,542.9 L1351.0,541.3 L1351.3,539.8 L1351.6,538.2 L1351.9,536.6 L1352.2,534.9 L1352.5,533.3 L1352.8,531.7 L1353.1,530.0 L1353.4,528.4 L1353.6,526.9 L1353.8,525.3 L1354.1,523.8 L1354.3,522.3 L1354.5,520.8 L1354.7,519.4 L1354.9,517.7 L1355.1,516.1 L1355.3,514.5 L1355.5,513.0 L1355.7,511.5 L1355.8,509.9 L1356.0,508.3 L1356.2,506.6 L1356.4,505.1 L1356.5,503.7 L1356.7,502.1 L1356.9,500.5 L1357.0,499.0 L1357.2,497.3 L1357.4,495.7 L1357.5,494.1 L1357.7,492.4 L1357.8,490.8 L1358.0,489.2 L1358.1,487.6 L1358.2,486.0 L1358.3,484.5 L1358.4,482.9 L1358.5,481.4 L1358.5,479.8 L1358.6,478.3 L1358.7,476.7 L1358.7,475.2 L1358.8,473.5 L1358.9,471.9 L1358.9,470.2 L1359.0,468.5 L1359.1,467.1 L1359.1,465.8 L1359.2,464.4 L1359.2,463.1 L1359.3,461.7 L1359.3,460.3 L1359.3,458.9 L1359.4,457.5 L1359.4,456.1 L1359.5,454.6 L1359.5,453.1 L1359.6,451.6 L1359.6,450.1 L1359.7,448.5 L1359.7,446.9 L1359.8,445.2 L1359.9,443.5 L1359.9,441.8 L1360.0,440.0 L1360.0,438.8 L1360.1,437.5 L1360.2,436.2 L1360.2,434.9 L1360.3,433.6 L1360.3,432.2 L1360.4,430.8 L1360.4,429.4 L1360.5,427.9 L1360.6,426.5 L1360.6,425.0 L1360.7,423.5 L1360.8,422.0 L1360.8,420.4 L1360.9,418.9 L1361.0,417.3 L1361.0,415.8 L1361.1,414.2 L1361.2,412.6 L1361.2,411.0 L1361.3,409.4 L1361.4,407.7 L1361.4,406.1 L1361.5,404.5 L1361.6,402.9 L1361.7,401.2 L1361.7,399.6 L1361.8,398.0 L1361.9,396.3 L1362.0,394.7 L1362.0,393.1 L1362.1,391.4 L1362.2,389.8 L1362.3,388.2 L1362.3,386.6 L1362.4,385.0 L1362.5,383.5 L1362.5,381.9 L1362.6,380.3 L1362.7,378.8 L1362.8,377.3 L1362.8,375.8 L1362.9,374.3 L1363.0,372.7 L1363.0,371.2 L1363.1,369.7 L1363.2,368.1 L1363.3,366.6 L1363.3,365.0 L1363.4,363.5 L1363.5,362.0 L1363.6,360.5 L1363.7,359.0 L1363.7,357.5 L1363.8,355.9 L1363.9,354.4 L1364.0,352.9 L1364.1,351.4 L1364.1,349.9 L1364.2,348.4 L1364.3,346.9 L1364.4,345.5 L1364.4,344.0 L1364.5,342.5 L1364.6,341.0 L1364.7,339.5 L1364.8,338.0 L1364.8,336.5 L1364.9,335.0 L1365.0,333.5 L1365.0,332.0 L1365.1,330.6 L1365.2,329.1 L1365.3,327.6 L1365.3,326.1 L1365.4,324.6 L1365.5,323.1 L1365.5,321.6 L1365.6,320.1 L1365.6,318.6 L1365.7,317.1 L1365.8,315.6 L1365.8,314.1 L1365.9,312.5 L1365.9,311.0 L1366.0,309.5 L1366.0,307.9 L1366.1,306.4 L1366.1,304.8 L1366.2,303.2 L1366.2,301.7 L1366.3,300.1 L1366.3,298.5 L1366.3,296.9 L1366.4,295.4 L1366.4,293.8 L1366.5,292.2 L1366.5,290.6 L1366.5,289.1 L1366.6,287.5 L1366.6,286.0 L1366.7,284.4 L1366.7,282.9 L1366.7,281.4 L1366.8,279.8 L1366.8,278.3 L1366.8,276.8 L1366.9,275.3 L1366.9,273.9 L1366.9,272.4 L1367.0,270.9 L1367.0,269.5 L1367.1,268.1 L1367.1,266.7 L1367.1,265.3 L1367.2,264.0 L1367.2,262.6 L1367.3,261.3 L1367.3,260.0 L1367.4,258.3 L1367.4,256.6 L1367.5,255.0 L1367.5,253.4 L1367.6,251.8 L1367.6,250.3 L1367.7,248.8 L1367.7,247.3 L1367.8,245.8 L1367.8,244.3 L1367.9,242.9 L1367.9,241.4 L1368.0,240.0 L1368.0,238.5 L1368.1,237.1 L1368.1,235.6 L1368.2,234.1 L1368.3,232.6 L1368.3,231.1 L1368.4,229.6 L1368.5,228.0 L1368.6,226.5 L1368.7,225.1 L1368.7,223.6 L1368.8,222.1 L1368.9,220.6 L1369.0,219.1 L1369.1,217.6 L1369.2,216.1 L1369.3,214.6 L1369.4,213.1 L1369.5,211.6 L1369.6,210.0 L1369.7,208.5 L1369.8,207.0 L1369.9,205.4 L1370.1,203.9 L1370.2,202.3 L1370.3,200.8 L1370.4,199.3 L1370.5,197.7 L1370.6,196.2 L1370.7,194.6 L1370.8,193.1 L1370.9,191.5 L1371.0,190.0 L1371.1,188.5 L1371.2,187.0 L1371.3,185.4 L1371.4,183.9 L1371.5,182.4 L1371.6,180.9 L1371.6,179.3 L1371.7,177.8 L1371.8,176.3 L1371.9,174.7 L1372.0,173.2 L1372.1,171.7 L1372.2,170.1 L1372.3,168.6 L1372.3,167.0 L1372.4,165.5 L1372.5,164.0 L1372.6,162.4 L1372.7,160.9 L1372.8,159.3 L1372.9,157.8 L1373.0,156.2 L1373.1,154.7 L1373.3,153.1 L1373.4,151.6 L1373.5,150.0 L1373.6,148.5 L1373.7,147.0 L1373.9,145.5 L1374.0,143.9 L1374.1,142.4 L1374.2,140.8 L1374.4,139.3 L1374.5,137.7 L1374.6,136.1 L1374.7,134.6 L1374.9,133.0 L1375.0,131.4 L1375.1,129.8 L1375.3,128.3 L1375.4,126.7 L1375.6,125.2 L1375.7,123.6 L1375.9,122.1 L1376.0,120.6 L1376.2,119.1 L1376.3,117.6 L1376.5,116.2 L1376.6,114.8 L1376.8,113.4 L1377.0,112.0 L1377.1,110.6 L1377.3,109.3 L1377.5,108.0 L1377.7,106.2 L1378.0,104.5 L1378.2,102.8 L1378.4,101.1 L1378.7,99.5 L1378.9,97.9 L1379.1,96.3 L1379.4,94.7 L1379.7,93.2 L1380.0,91.7 L1380.3,90.3 L1380.6,88.8 L1381.0,87.4 L1381.4,86.1 L1381.8,84.7 L1382.4,83.1 L1383.0,81.5 L1383.6,79.9 L1384.2,78.4 L1384.9,76.9 L1385.7,75.4 L1386.4,74.1 L1387.2,72.8 L1388.1,71.5 L1389.0,70.4 L1390.2,69.1 L1391.5,68.0 L1392.9,67.0 L1394.3,66.1 L1395.7,65.2 L1397.1,64.3 L1398.5,63.3 L1415.1,75.2 L1427.0,84.7 L1438.9,99.0 L1448.4,109.7 L1462.7,115.6 L1474.6,122.7 L1486.5,119.2 L1496.0,122.7 L1505.5,134.6 L1512.6,153.7 L1517.4,172.7 L1519.0,300.0 L1521.0,440.0 L1524.0,560.0 L1531.7,590.0 L1540.0,606.7 L1550.0,630.0 L1556.7,623.3 L1563.3,621.7 L1568.3,673.3 L1573.3,696.7 L1580.0,700.0 L1586.7,710.0 L1594.0,690.0" fill="none" stroke="#1f77b4" stroke-width="5.0" stroke-linejoin="round" stroke-linecap="butt"/>
<path d="M936.0,651.0 L937.5,650.5 L938.9,650.0 L940.3,649.6 L941.8,649.1 L943.2,648.6 L944.7,648.1 L946.1,647.6 L947.5,647.1 L949.0,646.6 L950.4,646.1 L951.8,645.6 L953.3,645.1 L954.7,644.6 L956.1,644.1 L957.5,643.6 L958.9,643.0 L960.4,642.5 L961.8,642.0 L963.2,641.5 L964.6,640.9 L966.0,640.4 L967.4,639.9 L968.8,639.3 L970.2,638.8 L971.6,638.2 L973.0,637.7 L974.4,637.1 L975.8,636.6 L977.2,636.0 L978.6,635.5 L980.0,634.9 L981.4,634.4 L982.8,633.8 L984.2,633.2 L985.6,632.7 L986.9,632.1 L988.3,631.6 L989.7,631.0 L991.1,630.4 L992.5,629.8 L993.9,629.3 L995.2,628.7 L996.6,628.1 L998.0,627.5 L999.4,627.0 L1000.8,626.4 L1002.1,625.8 L1003.5,625.2 L1004.9,624.6 L1006.3,624.0 L1007.6,623.4 L1009.0,622.8 L1010.4,622.3 L1011.8,621.7 L1013.1,621.1 L1014.5,620.5 L1015.9,619.9 L1017.2,619.3 L1018.6,618.7 L1020.0,618.1 L1021.3,617.5 L1022.7,616.9 L1024.1,616.3 L1025.5,615.7 L1026.8,615.1 L1028.2,614.5 L1029.6,613.9 L1030.9,613.3 L1032.3,612.7 L1033.7,612.1 L1035.0,611.5 L1036.4,610.9 L1037.8,610.3 L1039.1,609.7 L1040.5,609.1 L1041.9,608.5 L1043.2,607.9 L1044.6,607.3 L1046.0,606.6 L1047.4,606.0 L1048.7,605.4 L1050.1,604.8 L1051.5,604.2 L1052.8,603.6 L1054.2,603.0 L1055.6,602.4 L1057.0,601.8 L1058.3,601.2 L1059.7,600.6 L1061.1,600.0 L1062.5,599.4 L1063.8,598.8 L1065.2,598.2 L1066.6,597.6 L1068.0,597.0 L1069.4,596.4 L1070.8,595.8 L1072.1,595.2 L1073.5,594.6 L1074.9,594.0 L1076.3,593.4 L1077.7,592.9 L1079.1,592.3 L1080.5,591.7 L1081.9,591.1 L1083.3,590.5 L1084.6,589.9 L1086.0,589.3 L1087.4,588.7 L1088.8,588.2 L1090.2,587.6 L1091.6,587.0 L1093.0,586.4 L1094.5,585.9 L1095.9,585.3 L1097.3,584.7 L1098.7,584.1 L1100.1,583.6 L1101.5,583.0 L1102.9,582.5 L1104.3,581.9 L1105.8,581.4 L1107.2,580.8 L1108.6,580.3 L1110.0,579.8 L1111.4,579.2 L1112.9,578.7 L1114.3,578.2 L1115.7,577.7 L1117.2,577.2 L1118.6,576.7 L1120.0,576.2 L1121.5,575.7 L1122.9,575.3 L1124.3,574.8 L1125.8,574.3 L1127.2,573.9 L1128.7,573.4 L1130.1,573.0 L1131.5,572.6 L1133.0,572.2 L1134.4,571.7 L1135.9,571.3 L1137.3,571.0 L1138.8,570.6 L1140.3,570.2 L1141.7,569.9 L1143.2,569.5 L1144.6,569.2 L1146.1,568.8 L1147.6,568.5 L1149.0,568.2 L1150.5,567.9 L1152.0,567.7 L1153.4,567.4 L1154.9,567.1 L1156.4,566.9 L1157.9,566.7 L1159.3,566.4 L1160.8,566.2 L1162.3,566.0 L1163.8,565.9 L1165.3,565.7 L1166.8,565.5 L1168.2,565.3 L1169.7,565.2 L1171.2,565.1 L1172.7,564.9 L1174.2,564.8 L1175.7,564.7 L1177.2,564.6 L1178.7,564.5 L1180.2,564.4 L1181.7,564.3 L1183.2,564.2 L1184.7,564.1 L1186.2,564.1 L1187.7,564.0 L1189.2,564.0 L1190.7,563.9 L1192.2,563.9 L1193.7,563.8 L1195.2,563.8 L1196.7,563.8 L1198.2,563.7 L1199.7,563.7 L1201.2,563.7 L1202.7,563.7 L1204.2,563.7 L1205.7,563.7 L1207.2,563.6 L1208.8,563.6 L1210.3,563.6 L1211.8,563.6 L1213.3,563.6 L1214.8,563.6 L1216.3,563.6 L1217.8,563.6 L1219.3,563.6 L1220.8,563.6 L1222.4,563.6 L1223.9,563.6 L1225.4,563.6 L1226.9,563.6 L1228.4,563.6 L1229.9,563.6 L1231.4,563.6 L1232.9,563.6 L1234.5,563.6 L1236.0,563.6 L1237.5,563.6 L1239.0,563.6 L1240.5,563.5 L1242.0,563.5 L1243.5,563.5 L1245.0,563.4 L1246.5,563.4 L1248.1,563.4 L1249.6,563.3 L1251.1,563.3 L1252.6,563.2 L1254.1,563.1 L1255.6,563.1 L1257.1,563.0 L1258.6,562.9 L1260.1,562.8 L1261.6,562.7 L1263.1,562.6 L1264.6,562.5 L1266.1,562.4 L1267.6,562.2 L1269.1,562.1 L1270.6,561.9 L1272.1,561.8 L1273.6,561.6 L1275.1,561.4 L1276.6,561.3 L1278.1,561.1 L1279.6,560.8 L1281.1,560.6 L1282.6,560.4 L1284.0,560.1 L1285.5,559.8 L1287.0,559.5 L1288.4,559.2 L1289.8,558.8 L1291.2,558.4 L1292.7,558.0 L1294.0,557.5 L1295.4,557.0 L1296.7,556.4 L1298.1,555.8 L1299.4,555.2 L1300.6,554.5 L1301.9,553.7 L1303.1,552.9 L1304.3,552.1 L1305.5,551.2 L1306.7,550.3 L1307.8,549.4 L1309.0,548.4 L1310.1,547.4 L1311.2,546.4 L1312.3,545.3 L1313.3,544.3 L1314.4,543.2 L1315.4,542.0 L1316.4,540.9 L1317.5,539.8 L1318.5,538.6 L1319.5,537.4 L1320.4,536.2 L1321.4,535.0 L1322.3,533.8 L1323.3,532.6 L1324.2,531.3 L1325.1,530.1 L1326.0,528.8 L1326.8,527.5 L1327.7,526.2 L1328.5,524.9 L1329.4,523.6 L1330.2,522.3 L1331.0,521.0 L1331.7,519.7 L1332.5,518.4 L1333.2,517.0 L1333.9,515.7 L1334.6,514.3 L1335.3,513.0 L1335.9,511.6 L1336.6,510.3 L1337.2,508.9 L1337.8,507.5 L1338.4,506.1 L1339.0,504.8 L1339.5,503.4 L1340.1,502.0 L1340.6,500.6 L1341.1,499.2 L1341.6,497.8 L1342.1,496.4 L1342.6,495.0 L1343.0,493.5 L1343.5,492.1 L1343.9,490.7 L1344.3,489.3 L1344.7,487.9 L1345.1,486.4 L1345.5,485.0 L1345.9,483.5 L1346.2,482.1 L1346.6,480.7 L1346.9,479.2 L1347.3,477.8 L1347.6,476.3 L1347.9,474.9 L1348.2,473.4 L1348.6,471.9 L1348.8,470.5 L1349.1,469.0 L1349.4,467.5 L1349.7,466.1 L1350.0,464.6 L1350.2,463.1 L1350.5,461.7 L1350.7,460.2 L1351.0,458.7 L1351.2,457.2 L1351.5,455.8 L1351.7,454.3 L1352.0,452.8 L1352.2,451.3 L1352.4,449.8 L1352.7,448.3 L1352.9,446.8 L1353.1,445.4 L1353.3,443.9 L1353.6,442.4 L1353.8,440.9 L1354.0,439.4 L1354.2,437.9 L1354.4,436.4 L1354.7,434.9 L1354.9,433.5 L1355.1,432.0 L1355.3,430.5 L1355.6,429.0 L1355.8,427.5 L1356.0,426.0 L1356.2,424.5 L1356.5,423.0 L1356.7,421.5 L1356.9,420.1 L1357.2,418.6 L1357.4,417.1 L1357.6,415.6 L1357.8,414.1 L1358.1,412.6 L1358.3,411.1 L1358.5,409.6 L1358.7,408.1 L1359.0,406.6 L1359.2,405.1 L1359.4,403.7 L1359.7,402.2 L1359.9,400.7 L1360.1,399.2 L1360.3,397.7 L1360.6,396.2 L1360.8,394.7 L1361.0,393.2 L1361.3,391.7 L1361.5,390.2 L1361.7,388.7 L1362.0,387.2 L1362.2,385.7 L1362.4,384.3 L1362.6,382.8 L1362.9,381.3 L1363.1,379.8 L1363.3,378.3 L1363.6,376.8 L1363.8,375.3 L1364.0,373.8 L1364.3,372.3 L1364.5,370.8 L1364.7,369.3 L1365.0,367.8 L1365.2,366.4 L1365.4,364.9 L1365.6,363.4 L1365.9,361.9 L1366.1,360.4 L1366.3,358.9 L1366.6,357.4 L1366.8,355.9 L1367.0,354.4 L1367.3,352.9 L1367.5,351.4 L1367.7,349.9 L1368.0,348.5 L1368.2,347.0 L1368.4,345.5 L1368.7,344.0 L1368.9,342.5 L1369.1,341.0 L1369.4,339.5 L1369.6,338.0 L1369.8,336.5 L1370.1,335.0 L1370.3,333.6 L1370.5,332.1 L1370.8,330.6 L1371.0,329.1 L1371.2,327.6 L1371.5,326.1 L1371.7,324.6 L1371.9,323.1 L1372.2,321.7 L1372.4,320.2 L1372.7,318.7 L1372.9,317.2 L1373.1,315.7 L1373.4,314.2 L1373.6,312.7 L1373.8,311.3 L1374.1,309.8 L1374.3,308.3 L1374.5,306.8 L1374.8,305.3 L1375.0,303.8 L1375.2,302.3 L1375.5,300.9 L1375.7,299.4 L1375.9,297.9 L1376.2,296.4 L1376.4,294.9 L1376.6,293.5 L1376.9,292.0 L1377.1,290.5 L1377.3,289.0 L1377.6,287.5 L1377.8,286.1 L1378.0,284.6 L1378.3,283.1 L1378.5,281.6 L1378.7,280.1 L1379.0,278.7 L1379.2,277.2 L1379.4,275.7 L1379.7,274.2 L1379.9,272.8 L1380.1,271.3 L1380.4,269.8 L1380.6,268.3 L1380.9,266.9 L1381.1,265.4 L1381.3,263.9 L1381.6,262.4 L1381.8,261.0 L1382.0,259.5 L1382.3,258.0 L1382.5,256.5 L1382.7,255.1 L1383.0,253.6 L1383.2,252.1 L1383.5,250.6 L1383.7,249.2 L1383.9,247.7 L1384.2,246.2 L1384.4,244.8 L1384.7,243.3 L1384.9,241.8 L1385.2,240.3 L1385.4,238.9 L1385.7,237.4 L1385.9,235.9 L1386.2,234.5 L1386.4,233.0 L1386.7,231.5 L1386.9,230.0 L1387.2,228.6 L1387.5,227.1 L1387.7,225.6 L1388.0,224.2 L1388.3,222.7 L1388.5,221.2 L1388.8,219.7 L1389.1,218.3 L1389.4,216.8 L1389.6,215.3 L1389.9,213.9 L1390.2,212.4 L1390.5,210.9 L1390.8,209.4 L1391.1,208.0 L1391.3,206.5 L1391.6,205.0 L1391.9,203.5 L1392.2,202.1 L1392.5,200.6 L1392.8,199.1 L1393.1,197.6 L1393.5,196.1 L1393.8,194.7 L1394.1,193.2 L1394.4,191.7 L1394.7,190.2 L1395.1,188.7 L1395.4,187.3 L1395.7,185.8 L1396.1,184.3 L1396.4,182.8 L1396.7,181.3 L1397.1,179.8 L1397.4,178.4 L1397.8,176.9 L1398.1,175.4 L1398.5,173.9 L1398.9,172.4 L1399.2,170.9 L1399.6,169.4 L1400.0,167.9 L1400.4,166.5 L1400.8,165.0 L1401.1,163.5 L1401.5,162.0 L1401.9,160.5 L1402.3,159.0 L1402.7,157.5 L1403.2,156.0 L1403.6,154.5 L1404.0,153.0 L1404.4,151.5 L1404.9,150.0 L1405.4,148.6 L1405.8,147.1 L1406.3,145.6 L1406.8,144.2 L1407.3,142.8 L1407.9,141.3 L1408.4,139.9 L1409.0,138.5 L1409.6,137.1 L1410.2,135.8 L1410.9,134.4 L1411.5,133.1 L1412.2,131.8 L1412.9,130.5 L1413.7,129.2 L1414.5,128.0 L1415.3,126.7 L1416.1,125.6 L1417.0,124.4 L1417.9,123.2 L1418.8,122.1 L1419.8,121.1 L1420.8,120.0 L1421.9,119.0 L1423.0,118.0 L1424.1,117.1 L1425.3,116.1 L1426.5,115.3 L1427.7,114.4 L1428.9,113.6 L1430.2,112.9 L1431.5,112.2 L1432.8,111.5 L1434.2,110.9 L1435.6,110.4 L1436.9,109.8 L1438.3,109.4 L1439.8,109.0 L1441.2,108.6 L1442.6,108.3 L1444.0,108.1 L1445.5,107.9 L1446.9,107.8 L1448.4,107.8 L1449.8,107.8 L1451.3,107.8 L1452.7,108.0 L1454.2,108.2 L1455.6,108.4 L1457.0,108.7 L1458.5,109.1 L1459.9,109.5 L1461.3,110.0 L1462.8,110.5 L1464.2,111.0 L1465.6,111.6 L1467.0,112.2 L1468.4,112.8 L1469.8,113.5 L1471.2,114.2 L1472.6,115.0 L1474.0,115.7 L1475.4,116.5 L1476.7,117.3 L1478.1,118.2 L1479.5,119.0 L1480.8,119.9 L1482.2,120.7 L1483.5,121.6 L1484.8,122.5 L1486.2,123.4 L1487.5,124.2 L1488.8,125.1 L1490.1,126.0 L1491.3,126.9 L1492.6,127.7 L1493.9,128.6 L1495.1,129.4 L1496.4,130.2 L1497.6,131.0 L1498.8,131.8 L1500.1,132.6 L1501.3,133.3 L1502.5,134.0 L1503.6,134.7 L1504.8,135.3 L1505.3,136.8 L1505.9,138.2 L1506.4,139.6 L1507.0,141.0 L1507.6,142.4 L1508.1,143.8 L1508.6,145.2 L1509.2,146.8 L1509.6,148.4 L1510.1,150.1 L1510.5,152.0 L1510.7,153.1 L1510.9,154.3 L1511.1,155.5 L1511.3,156.7 L1511.4,157.9 L1511.6,159.2 L1511.7,160.5 L1511.8,161.8 L1511.9,163.2 L1512.1,164.5 L1512.2,165.9 L1512.2,167.4 L1512.3,168.8 L1512.4,170.3 L1512.5,171.8 L1512.5,173.3 L1512.6,174.9 L1512.7,176.4 L1512.7,178.0 L1512.8,179.6 L1512.8,181.2 L1512.9,182.9 L1512.9,184.5 L1513.0,186.2 L1513.0,187.9 L1513.1,189.6 L1513.2,191.3 L1513.2,193.0 L1513.3,194.7 L1513.3,196.5 L1513.4,198.2 L1513.5,200.0 L1513.6,201.2 L1513.6,202.5 L1513.7,203.8 L1513.7,205.1 L1513.8,206.4 L1513.8,207.7 L1513.9,209.0 L1513.9,210.3 L1514.0,211.7 L1514.0,213.0 L1514.1,214.4 L1514.1,215.7 L1514.2,217.1 L1514.2,218.5 L1514.3,219.9 L1514.3,221.3 L1514.4,222.8 L1514.4,224.2 L1514.5,225.6 L1514.5,227.1 L1514.6,228.6 L1514.6,230.0 L1514.7,231.5 L1514.7,233.0 L1514.8,234.5 L1514.8,236.0 L1514.9,237.5 L1514.9,239.0 L1514.9,240.5 L1515.0,242.1 L1515.0,243.6 L1515.1,245.1 L1515.1,246.7 L1515.2,248.2 L1515.2,249.8 L1515.3,251.4 L1515.3,252.9 L1515.3,254.5 L1515.4,256.1 L1515.4,257.7 L1515.5,259.3 L1515.5,260.9 L1515.5,262.5 L1515.6,264.1 L1515.6,265.7 L1515.7,267.3 L1515.7,268.9 L1515.8,270.5 L1515.8,272.2 L1515.8,273.8 L1515.9,275.4 L1515.9,277.0 L1516.0,278.7 L1516.0,280.3 L1516.0,281.9 L1516.1,283.6 L1516.1,285.2 L1516.2,286.9 L1516.2,288.5 L1516.2,290.1 L1516.3,291.8 L1516.3,293.4 L1516.4,295.1 L1516.4,296.7 L1516.5,298.4 L1516.5,300.0 L1516.5,301.4 L1516.6,302.8 L1516.6,304.2 L1516.6,305.6 L1516.7,307.0 L1516.7,308.4 L1516.7,309.8 L1516.8,311.3 L1516.8,312.7 L1516.8,314.2 L1516.9,315.6 L1516.9,317.1 L1516.9,318.6 L1517.0,320.0 L1517.0,321.5 L1517.0,323.0 L1517.1,324.5 L1517.1,326.0 L1517.1,327.5 L1517.2,329.0 L1517.2,330.5 L1517.2,332.0 L1517.3,333.5 L1517.3,335.0 L1517.3,336.6 L1517.4,338.1 L1517.4,339.6 L1517.4,341.2 L1517.5,342.7 L1517.5,344.2 L1517.5,345.8 L1517.6,347.3 L1517.6,348.9 L1517.6,350.4 L1517.6,352.0 L1517.7,353.6 L1517.7,355.1 L1517.7,356.7 L1517.8,358.2 L1517.8,359.8 L1517.8,361.4 L1517.9,362.9 L1517.9,364.5 L1517.9,366.1 L1518.0,367.6 L1518.0,369.2 L1518.0,370.8 L1518.0,372.4 L1518.1,373.9 L1518.1,375.5 L1518.1,377.1 L1518.2,378.6 L1518.2,380.2 L1518.2,381.8 L1518.3,383.3 L1518.3,384.9 L1518.3,386.4 L1518.4,388.0 L1518.4,389.6 L1518.4,391.1 L1518.4,392.7 L1518.5,394.2 L1518.5,395.8 L1518.5,397.3 L1518.6,398.8 L1518.6,400.4 L1518.6,401.9 L1518.7,403.4 L1518.7,405.0 L1518.7,406.5 L1518.8,408.0 L1518.8,409.5 L1518.8,411.0 L1518.9,412.5 L1518.9,414.0 L1518.9,415.5 L1519.0,417.0 L1519.0,418.5 L1519.0,420.0 L1519.1,421.4 L1519.1,422.9 L1519.1,424.4 L1519.2,425.8 L1519.2,427.3 L1519.2,428.7 L1519.3,430.2 L1519.3,431.6 L1519.3,433.0 L1519.4,434.4 L1519.4,435.8 L1519.4,437.2 L1519.5,438.6 L1519.5,440.0 L1519.5,441.6 L1519.6,443.3 L1519.6,444.9 L1519.7,446.6 L1519.7,448.2 L1519.7,449.9 L1519.8,451.5 L1519.8,453.1 L1519.9,454.8 L1519.9,456.4 L1519.9,458.0 L1520.0,459.7 L1520.0,461.3 L1520.0,462.9 L1520.1,464.6 L1520.1,466.2 L1520.2,467.8 L1520.2,469.4 L1520.2,471.0 L1520.3,472.6 L1520.3,474.2 L1520.3,475.9 L1520.4,477.5 L1520.4,479.0 L1520.5,480.6 L1520.5,482.2 L1520.5,483.8 L1520.6,485.4 L1520.6,487.0 L1520.6,488.5 L1520.7,490.1 L1520.7,491.6 L1520.8,493.2 L1520.8,494.7 L1520.8,496.3 L1520.9,497.8 L1520.9,499.3 L1521.0,500.9 L1521.0,502.4 L1521.0,503.9 L1521.1,505.4 L1521.1,506.9 L1521.2,508.4 L1521.2,509.8 L1521.3,511.3 L1521.3,512.8 L1521.4,514.2 L1521.4,515.7 L1521.5,517.1 L1521.5,518.5 L1521.6,519.9 L1521.6,521.4 L1521.7,522.8 L1521.7,524.1 L1521.8,525.5 L1521.9,526.9 L1521.9,528.2 L1522.0,529.6 L1522.0,530.9 L1522.1,532.3 L1522.2,533.6 L1522.2,534.9 L1522.3,536.2 L1522.4,537.5 L1522.4,538.7 L1522.5,540.0 L1522.6,541.8 L1522.7,543.5 L1522.8,545.3 L1522.9,547.0 L1522.9,548.7 L1523.0,550.4 L1523.1,552.0 L1523.2,553.7 L1523.2,555.3 L1523.3,557.0 L1523.4,558.6 L1523.5,560.2 L1523.5,561.7 L1523.6,563.3 L1523.7,564.8 L1523.8,566.4 L1523.9,567.9 L1524.0,569.4 L1524.1,570.9 L1524.2,572.3 L1524.3,573.8 L1524.5,575.2 L1524.6,576.6 L1524.8,578.0 L1524.9,579.4 L1525.1,580.8 L1525.3,582.2 L1525.5,583.5 L1525.7,584.8 L1525.9,586.1 L1526.2,587.4 L1526.4,588.7 L1526.7,590.0 L1527.1,591.6 L1527.5,593.3 L1527.8,594.9 L1528.2,596.5 L1528.6,598.1 L1529.1,599.6 L1529.5,601.1 L1530.0,602.6 L1530.4,604.1 L1530.9,605.5 L1531.4,606.9 L1532.0,608.3 L1532.6,609.6 L1533.2,610.9 L1533.8,612.2 L1534.5,613.4 L1535.2,614.5 L1535.9,615.6 L1536.7,616.7 L1537.7,618.0 L1538.8,619.2 L1539.9,620.3 L1541.1,621.4 L1542.4,622.4 L1543.7,623.4 L1545.0,624.3 L1546.3,625.1 L1547.7,625.9 L1549.1,626.6 L1550.5,627.3 L1551.9,627.8 L1553.3,628.3 L1554.7,628.7 L1556.2,629.0 L1557.7,629.1 L1559.2,629.2 L1560.7,629.2 L1562.3,629.2 L1563.8,629.1 L1565.4,629.0 L1567.0,628.8 L1568.6,628.7 L1570.2,628.5 L1571.7,628.4 L1573.3,628.3 L1574.9,628.2 L1576.5,628.1 L1578.1,628.0 L1579.6,627.9 L1581.2,627.7 L1582.8,627.6 L1584.4,627.4 L1586.0,627.3 L1587.6,627.1 L1589.2,627.0 L1590.8,626.8 L1592.4,626.6 L1594.0,626.5" fill="none" stroke="#ff7f0e" stroke-width="5.0" stroke-linejoin="round" stroke-linecap="butt"/>
<path d="M936.0,650.0 L937.4,649.6 L938.9,649.2 L940.3,648.7 L941.8,648.3 L943.2,647.9 L944.6,647.4 L946.1,647.0 L947.5,646.5 L948.9,646.0 L950.3,645.6 L951.8,645.1 L953.2,644.6 L954.6,644.1 L956.0,643.6 L957.4,643.1 L958.8,642.6 L960.2,642.1 L961.7,641.6 L963.1,641.0 L964.5,640.5 L965.9,640.0 L967.3,639.4 L968.7,638.9 L970.1,638.3 L971.5,637.8 L972.8,637.2 L974.2,636.6 L975.6,636.1 L977.0,635.5 L978.4,634.9 L979.8,634.3 L981.2,633.7 L982.6,633.2 L983.9,632.6 L985.3,632.0 L986.7,631.4 L988.1,630.8 L989.4,630.2 L990.8,629.5 L992.2,628.9 L993.6,628.3 L994.9,627.7 L996.3,627.1 L997.7,626.5 L999.1,625.8 L1000.4,625.2 L1001.8,624.6 L1003.2,624.0 L1004.5,623.3 L1005.9,622.7 L1007.3,622.1 L1008.6,621.4 L1010.0,620.8 L1011.4,620.2 L1012.7,619.5 L1014.1,618.9 L1015.5,618.2 L1016.8,617.6 L1018.2,617.0 L1019.6,616.3 L1020.9,615.7 L1022.3,615.0 L1023.6,614.4 L1025.0,613.8 L1026.4,613.1 L1027.7,612.5 L1029.1,611.9 L1030.5,611.2 L1031.8,610.6 L1033.2,609.9 L1034.6,609.3 L1035.9,608.7 L1037.3,608.0 L1038.7,607.4 L1040.0,606.8 L1041.4,606.2 L1042.8,605.5 L1044.1,604.9 L1045.5,604.3 L1046.9,603.7 L1048.3,603.1 L1049.6,602.4 L1051.0,601.8 L1052.4,601.2 L1053.8,600.6 L1055.1,600.0 L1056.5,599.4 L1057.9,598.8 L1059.3,598.2 L1060.6,597.7 L1062.0,597.1 L1063.4,596.5 L1064.8,595.9 L1066.2,595.3 L1067.6,594.8 L1069.0,594.2 L1070.4,593.7 L1071.8,593.1 L1073.1,592.5 L1074.5,592.0 L1075.9,591.5 L1077.3,590.9 L1078.7,590.4 L1080.1,589.9 L1081.6,589.4 L1083.0,588.8 L1084.4,588.3 L1085.8,587.8 L1087.2,587.3 L1088.6,586.8 L1090.0,586.4 L1091.4,585.9 L1092.9,585.4 L1094.3,585.0 L1095.7,584.5 L1097.1,584.0 L1098.6,583.6 L1100.0,583.2 L1101.4,582.7 L1102.9,582.3 L1104.3,581.9 L1105.8,581.5 L1107.2,581.1 L1108.7,580.7 L1110.1,580.3 L1111.6,580.0 L1113.0,579.6 L1114.5,579.2 L1115.9,578.9 L1117.4,578.5 L1118.9,578.2 L1120.3,577.9 L1121.8,577.6 L1123.3,577.3 L1124.7,577.0 L1126.2,576.7 L1127.7,576.4 L1129.1,576.2 L1130.6,575.9 L1132.1,575.7 L1133.6,575.4 L1135.0,575.2 L1136.5,575.0 L1138.0,574.8 L1139.5,574.6 L1141.0,574.4 L1142.5,574.2 L1143.9,574.1 L1145.4,573.9 L1146.9,573.8 L1148.4,573.7 L1149.9,573.6 L1151.4,573.5 L1152.9,573.4 L1154.4,573.3 L1155.9,573.2 L1157.4,573.2 L1158.8,573.1 L1160.3,573.1 L1161.8,573.1 L1163.3,573.1 L1164.8,573.1 L1166.3,573.1 L1167.8,573.2 L1169.3,573.2 L1170.8,573.3 L1172.3,573.4 L1173.8,573.5 L1175.3,573.6 L1176.8,573.7 L1178.3,573.9 L1179.8,574.0 L1181.2,574.2 L1182.7,574.4 L1184.2,574.6 L1185.7,574.8 L1187.2,575.0 L1188.7,575.3 L1190.2,575.5 L1191.7,575.8 L1193.2,576.0 L1194.7,576.3 L1196.1,576.6 L1197.6,576.9 L1199.1,577.3 L1200.6,577.6 L1202.1,577.9 L1203.6,578.3 L1205.0,578.6 L1206.5,579.0 L1208.0,579.4 L1209.5,579.7 L1210.9,580.1 L1212.4,580.5 L1213.9,580.9 L1215.4,581.3 L1216.8,581.7 L1218.3,582.1 L1219.8,582.5 L1221.2,582.9 L1222.7,583.3 L1224.2,583.7 L1225.6,584.2 L1227.1,584.6 L1228.6,585.0 L1230.0,585.4 L1231.5,585.8 L1232.9,586.2 L1234.4,586.6 L1235.8,587.0 L1237.3,587.4 L1238.7,587.8 L1240.2,588.2 L1241.6,588.6 L1243.0,589.0 L1244.5,589.4 L1245.9,589.8 L1247.3,590.1 L1248.8,590.5 L1250.2,590.9 L1251.6,591.2 L1253.1,591.6 L1254.5,591.9 L1255.9,592.3 L1257.4,592.6 L1258.8,593.0 L1260.2,593.3 L1261.7,593.6 L1263.1,594.0 L1264.6,594.3 L1266.0,594.6 L1267.5,595.0 L1268.9,595.3 L1270.4,595.7 L1271.9,596.0 L1273.4,596.4 L1274.9,596.7 L1276.4,597.1 L1277.9,597.4 L1279.4,597.8 L1280.9,598.1 L1282.5,598.5 L1284.0,598.8 L1285.5,599.1 L1287.1,599.4 L1288.6,599.6 L1290.1,599.8 L1291.6,599.9 L1293.2,600.0 L1294.7,600.1 L1296.2,600.1 L1297.7,600.0 L1299.2,599.9 L1300.7,599.7 L1302.1,599.4 L1303.6,599.0 L1305.0,598.6 L1306.4,598.1 L1307.8,597.5 L1309.1,596.9 L1310.4,596.2 L1311.7,595.5 L1312.9,594.7 L1314.1,593.8 L1315.3,592.9 L1316.4,592.0 L1317.4,591.0 L1318.4,590.0 L1319.4,589.0 L1320.3,587.9 L1321.2,586.8 L1322.0,585.6 L1322.8,584.4 L1323.5,583.2 L1324.3,581.9 L1324.9,580.6 L1325.6,579.3 L1326.2,578.0 L1326.8,576.6 L1327.4,575.3 L1327.9,573.9 L1328.4,572.4 L1328.9,571.0 L1329.4,569.6 L1329.8,568.1 L1330.2,566.6 L1330.6,565.1 L1331.0,563.6 L1331.4,562.1 L1331.8,560.6 L1332.1,559.1 L1332.4,557.6 L1332.8,556.1 L1333.1,554.5 L1333.4,553.0 L1333.7,551.5 L1334.0,550.0 L1334.3,548.5 L1334.6,547.0 L1334.8,545.5 L1335.1,544.0 L1335.4,542.4 L1335.6,540.9 L1335.9,539.4 L1336.1,537.9 L1336.4,536.4 L1336.6,534.9 L1336.8,533.4 L1337.0,531.9 L1337.3,530.4 L1337.5,528.9 L1337.7,527.4 L1337.9,525.9 L1338.1,524.4 L1338.3,522.9 L1338.5,521.4 L1338.6,519.9 L1338.8,518.4 L1339.0,516.9 L1339.2,515.4 L1339.3,513.9 L1339.5,512.4 L1339.7,510.9 L1339.8,509.5 L1340.0,508.0 L1340.1,506.5 L1340.3,505.0 L1340.4,503.5 L1340.5,502.0 L1340.7,500.5 L1340.8,499.0 L1340.9,497.5 L1341.0,496.0 L1341.2,494.5 L1341.3,493.1 L1341.4,491.6 L1341.5,490.1 L1341.6,488.6 L1341.7,487.1 L1341.8,485.6 L1341.9,484.1 L1342.1,482.6 L1342.2,481.1 L1342.3,479.7 L1342.4,478.2 L1342.5,476.7 L1342.6,475.2 L1342.6,473.7 L1342.7,472.2 L1342.8,470.7 L1342.9,469.2 L1343.0,467.7 L1343.1,466.3 L1343.2,464.8 L1343.3,463.3 L1343.4,461.8 L1343.5,460.3 L1343.6,458.8 L1343.6,457.3 L1343.7,455.8 L1343.8,454.3 L1343.9,452.8 L1344.0,451.3 L1344.1,449.8 L1344.2,448.3 L1344.2,446.9 L1344.3,445.4 L1344.4,443.9 L1344.5,442.4 L1344.6,440.9 L1344.6,439.4 L1344.7,437.9 L1344.8,436.4 L1344.9,434.9 L1345.0,433.4 L1345.0,431.9 L1345.1,430.4 L1345.2,428.9 L1345.3,427.4 L1345.3,425.9 L1345.4,424.4 L1345.5,422.9 L1345.6,421.4 L1345.6,419.9 L1345.7,418.4 L1345.8,416.9 L1345.9,415.4 L1345.9,413.9 L1346.0,412.4 L1346.1,410.9 L1346.2,409.4 L1346.2,407.9 L1346.3,406.4 L1346.4,404.9 L1346.4,403.5 L1346.5,402.0 L1346.6,400.5 L1346.6,399.0 L1346.7,397.5 L1346.8,396.0 L1346.9,394.5 L1346.9,393.0 L1347.0,391.5 L1347.1,389.9 L1347.1,388.4 L1347.2,386.9 L1347.3,385.4 L1347.3,383.9 L1347.4,382.4 L1347.5,380.9 L1347.5,379.4 L1347.6,377.9 L1347.7,376.4 L1347.7,374.9 L1347.8,373.4 L1347.8,371.9 L1347.9,370.4 L1348.0,368.9 L1348.0,367.4 L1348.1,365.9 L1348.2,364.4 L1348.2,362.9 L1348.3,361.4 L1348.4,359.9 L1348.4,358.4 L1348.5,356.9 L1348.6,355.4 L1348.6,353.9 L1348.7,352.4 L1348.7,350.9 L1348.8,349.4 L1348.9,347.9 L1348.9,346.4 L1349.0,344.9 L1349.1,343.4 L1349.1,341.9 L1349.2,340.4 L1349.3,338.9 L1349.3,337.4 L1349.4,335.9 L1349.4,334.4 L1349.5,332.9 L1349.6,331.3 L1349.6,329.8 L1349.7,328.3 L1349.8,326.8 L1349.8,325.3 L1349.9,323.8 L1349.9,322.3 L1350.0,320.8 L1350.1,319.3 L1350.1,317.8 L1350.2,316.3 L1350.3,314.8 L1350.3,313.3 L1350.4,311.8 L1350.5,310.3 L1350.5,308.8 L1350.6,307.3 L1350.7,305.8 L1350.7,304.3 L1350.8,302.8 L1350.9,301.3 L1350.9,299.8 L1351.0,298.3 L1351.0,296.8 L1351.1,295.2 L1351.2,293.7 L1351.2,292.2 L1351.3,290.7 L1351.4,289.2 L1351.5,287.7 L1351.5,286.2 L1351.6,284.7 L1351.7,283.2 L1351.7,281.7 L1351.8,280.2 L1351.9,278.7 L1351.9,277.2 L1352.0,275.7 L1352.1,274.2 L1352.1,272.7 L1352.2,271.2 L1352.3,269.7 L1352.4,268.2 L1352.4,266.7 L1352.5,265.2 L1352.6,263.7 L1352.6,262.2 L1352.7,260.7 L1352.8,259.2 L1352.9,257.7 L1352.9,256.2 L1353.0,254.7 L1353.1,253.2 L1353.2,251.7 L1353.2,250.2 L1353.3,248.6 L1353.4,247.1 L1353.5,245.6 L1353.6,244.1 L1353.6,242.6 L1353.7,241.1 L1353.8,239.6 L1353.9,238.1 L1354.0,236.6 L1354.0,235.1 L1354.1,233.6 L1354.2,232.1 L1354.3,230.6 L1354.4,229.1 L1354.5,227.6 L1354.5,226.1 L1354.6,224.6 L1354.7,223.1 L1354.8,221.6 L1354.9,220.1 L1355.0,218.6 L1355.1,217.1 L1355.2,215.6 L1355.2,214.1 L1355.3,212.6 L1355.4,211.1 L1355.5,209.6 L1355.6,208.1 L1355.7,206.6 L1355.8,205.1 L1355.9,203.6 L1356.0,202.2 L1356.1,200.7 L1356.2,199.2 L1356.3,197.7 L1356.4,196.2 L1356.5,194.7 L1356.6,193.2 L1356.7,191.7 L1356.8,190.2 L1356.9,188.7 L1357.0,187.2 L1357.1,185.7 L1357.2,184.2 L1357.3,182.7 L1357.4,181.2 L1357.5,179.7 L1357.6,178.2 L1357.7,176.7 L1357.8,175.2 L1357.9,173.7 L1358.0,172.2 L1358.1,170.7 L1358.2,169.2 L1358.3,167.7 L1358.4,166.2 L1358.5,164.7 L1358.7,163.3 L1358.8,161.8 L1358.9,160.3 L1359.0,158.8 L1359.1,157.3 L1359.2,155.8 L1359.3,154.3 L1359.5,152.8 L1359.6,151.3 L1359.7,149.8 L1359.8,148.3 L1359.9,146.8 L1360.0,145.3 L1360.2,143.8 L1360.3,142.3 L1360.4,140.8 L1360.5,139.4 L1360.6,137.9 L1360.8,136.4 L1360.9,134.9 L1361.0,133.4 L1361.1,131.9 L1361.3,130.4 L1361.4,128.9 L1361.5,127.4 L1361.6,125.9 L1361.8,124.4 L1361.9,122.9 L1362.0,121.5 L1362.2,120.0 L1362.3,118.5 L1362.4,117.0 L1362.5,115.5 L1362.7,114.0 L1362.8,112.5 L1362.9,111.0 L1363.1,109.5 L1363.2,108.0 L1363.4,106.5 L1363.5,105.1 L1363.7,103.6 L1363.8,102.1 L1364.0,100.6 L1364.2,99.1 L1364.4,97.6 L1364.6,96.1 L1364.8,94.6 L1365.0,93.1 L1365.2,91.7 L1365.5,90.2 L1365.7,88.7 L1366.0,87.2 L1366.3,85.7 L1366.6,84.2 L1366.9,82.7 L1367.3,81.3 L1367.6,79.8 L1368.0,78.3 L1368.4,76.8 L1368.8,75.3 L1369.2,73.8 L1369.7,72.4 L1370.1,70.9 L1370.6,69.4 L1371.2,67.9 L1371.7,66.4 L1372.3,65.0 L1372.9,63.5 L1373.5,62.1 L1374.2,60.7 L1374.9,59.3 L1375.6,57.9 L1376.4,56.5 L1377.1,55.2 L1378.0,54.0 L1378.8,52.7 L1379.7,51.5 L1380.6,50.4 L1381.6,49.3 L1382.6,48.3 L1383.6,47.3 L1384.7,46.4 L1385.8,45.5 L1387.0,44.7 L1388.2,44.0 L1389.4,43.3 L1390.7,42.8 L1392.0,42.3 L1393.4,41.9 L1394.8,41.6 L1396.3,41.3 L1397.7,41.1 L1399.2,41.0 L1400.7,41.0 L1402.2,41.0 L1403.6,41.1 L1405.1,41.3 L1406.6,41.5 L1408.0,41.8 L1409.4,42.1 L1410.9,42.4 L1412.3,42.9 L1413.7,43.3 L1415.1,43.9 L1416.5,44.4 L1417.8,45.0 L1419.2,45.7 L1420.6,46.3 L1421.9,47.0 L1423.3,47.8 L1424.6,48.5 L1425.9,49.3 L1427.2,50.1 L1428.5,51.0 L1429.8,51.8 L1431.1,52.7 L1432.4,53.6 L1433.7,54.5 L1435.0,55.5 L1436.2,56.4 L1437.5,57.3 L1438.7,58.3 L1440.0,59.2 L1441.2,60.1 L1442.4,61.1 L1443.6,62.0 L1444.8,63.0 L1446.0,63.9 L1447.2,64.9 L1448.4,65.9 L1449.6,66.8 L1450.8,67.8 L1452.0,68.7 L1453.1,69.7 L1454.3,70.7 L1455.4,71.7 L1456.6,72.7 L1457.7,73.6 L1458.8,74.6 L1460.0,75.6 L1461.1,76.6 L1462.2,77.6 L1463.3,78.6 L1464.4,79.6 L1465.5,80.7 L1466.5,81.7 L1467.6,82.7 L1468.7,83.7 L1469.7,84.8 L1470.8,85.8 L1471.8,86.9 L1472.8,87.9 L1473.9,89.0 L1474.9,90.1 L1475.9,91.1 L1476.9,92.2 L1477.9,93.3 L1478.9,94.4 L1479.8,95.5 L1480.8,96.6 L1481.8,97.7 L1482.7,98.8 L1483.7,100.0 L1484.6,101.1 L1485.6,102.2 L1486.5,103.4 L1487.4,104.5 L1488.3,105.7 L1489.2,106.9 L1490.1,108.1 L1491.0,109.3 L1491.9,110.5 L1492.7,111.7 L1493.6,112.9 L1494.4,114.1 L1495.3,115.4 L1496.1,116.6 L1497.0,117.9 L1497.8,119.1 L1498.6,120.4 L1499.4,121.7 L1500.2,123.0 L1501.0,124.3 L1501.8,125.6 L1502.5,127.0 L1503.3,128.3 L1504.1,129.6 L1504.8,131.0 L1505.3,132.4 L1505.8,133.8 L1506.3,135.2 L1506.8,136.6 L1507.3,138.0 L1507.8,139.3 L1508.3,140.7 L1508.8,142.1 L1509.3,143.6 L1509.8,145.1 L1510.2,146.7 L1510.6,148.3 L1511.0,150.0 L1511.2,151.3 L1511.5,152.6 L1511.7,153.9 L1511.9,155.2 L1512.1,156.6 L1512.3,158.0 L1512.4,159.5 L1512.6,160.9 L1512.7,162.4 L1512.9,163.9 L1513.0,165.4 L1513.1,167.0 L1513.2,168.5 L1513.4,170.1 L1513.5,171.7 L1513.6,173.3 L1513.7,174.9 L1513.7,176.6 L1513.8,178.2 L1513.9,179.9 L1514.0,181.6 L1514.1,183.2 L1514.2,184.9 L1514.3,186.6 L1514.4,188.3 L1514.5,190.0 L1514.6,191.4 L1514.7,192.7 L1514.7,194.1 L1514.8,195.5 L1514.9,196.9 L1514.9,198.3 L1515.0,199.7 L1515.1,201.1 L1515.1,202.6 L1515.2,204.0 L1515.2,205.5 L1515.3,207.0 L1515.3,208.4 L1515.4,209.9 L1515.4,211.4 L1515.5,212.9 L1515.5,214.4 L1515.6,215.9 L1515.6,217.4 L1515.7,218.9 L1515.7,220.5 L1515.7,222.0 L1515.8,223.5 L1515.8,225.1 L1515.9,226.6 L1515.9,228.2 L1515.9,229.7 L1516.0,231.3 L1516.0,232.8 L1516.1,234.4 L1516.1,235.9 L1516.1,237.5 L1516.2,239.1 L1516.2,240.6 L1516.3,242.2 L1516.3,243.8 L1516.4,245.3 L1516.4,246.9 L1516.5,248.4 L1516.5,250.0 L1516.5,251.5 L1516.6,252.9 L1516.6,254.4 L1516.7,255.8 L1516.7,257.3 L1516.8,258.7 L1516.8,260.2 L1516.8,261.7 L1516.9,263.1 L1516.9,264.6 L1517.0,266.0 L1517.0,267.5 L1517.1,268.9 L1517.1,270.4 L1517.1,271.9 L1517.2,273.3 L1517.2,274.8 L1517.3,276.3 L1517.3,277.7 L1517.3,279.2 L1517.4,280.7 L1517.4,282.2 L1517.5,283.7 L1517.5,285.2 L1517.5,286.7 L1517.6,288.2 L1517.6,289.7 L1517.7,291.2 L1517.7,292.7 L1517.8,294.3 L1517.8,295.8 L1517.8,297.4 L1517.9,298.9 L1517.9,300.5 L1518.0,302.1 L1518.0,303.6 L1518.1,305.2 L1518.1,306.8 L1518.2,308.4 L1518.2,310.1 L1518.3,311.7 L1518.3,313.3 L1518.3,315.0 L1518.4,316.6 L1518.4,318.3 L1518.5,320.0 L1518.5,321.3 L1518.6,322.7 L1518.6,324.1 L1518.7,325.4 L1518.7,326.8 L1518.7,328.2 L1518.8,329.6 L1518.8,331.0 L1518.9,332.4 L1518.9,333.8 L1518.9,335.2 L1519.0,336.7 L1519.0,338.1 L1519.1,339.5 L1519.1,341.0 L1519.1,342.5 L1519.2,343.9 L1519.2,345.4 L1519.3,346.9 L1519.3,348.4 L1519.3,349.8 L1519.4,351.3 L1519.4,352.8 L1519.5,354.3 L1519.5,355.8 L1519.6,357.4 L1519.6,358.9 L1519.6,360.4 L1519.7,361.9 L1519.7,363.4 L1519.8,365.0 L1519.8,366.5 L1519.9,368.0 L1519.9,369.6 L1519.9,371.1 L1520.0,372.7 L1520.0,374.2 L1520.1,375.8 L1520.1,377.3 L1520.2,378.9 L1520.2,380.4 L1520.3,382.0 L1520.3,383.6 L1520.4,385.1 L1520.4,386.7 L1520.5,388.3 L1520.5,389.8 L1520.6,391.4 L1520.6,392.9 L1520.7,394.5 L1520.7,396.1 L1520.8,397.6 L1520.8,399.2 L1520.9,400.8 L1520.9,402.3 L1521.0,403.9 L1521.0,405.4 L1521.1,407.0 L1521.1,408.5 L1521.2,410.1 L1521.3,411.6 L1521.3,413.2 L1521.4,414.7 L1521.4,416.3 L1521.5,417.8 L1521.6,419.4 L1521.6,420.9 L1521.7,422.4 L1521.7,423.9 L1521.8,425.5 L1521.9,427.0 L1521.9,428.5 L1522.0,430.0 L1522.1,431.5 L1522.1,433.0 L1522.2,434.6 L1522.3,436.1 L1522.3,437.6 L1522.4,439.2 L1522.5,440.8 L1522.5,442.3 L1522.6,443.9 L1522.7,445.5 L1522.7,447.1 L1522.8,448.7 L1522.9,450.3 L1523.0,451.9 L1523.0,453.5 L1523.1,455.1 L1523.2,456.7 L1523.2,458.3 L1523.3,459.9 L1523.4,461.5 L1523.5,463.1 L1523.5,464.8 L1523.6,466.4 L1523.7,468.0 L1523.7,469.6 L1523.8,471.3 L1523.9,472.9 L1524.0,474.5 L1524.0,476.1 L1524.1,477.7 L1524.2,479.3 L1524.3,481.0 L1524.4,482.6 L1524.4,484.2 L1524.5,485.8 L1524.6,487.4 L1524.7,489.0 L1524.8,490.6 L1524.9,492.1 L1524.9,493.7 L1525.0,495.3 L1525.1,496.9 L1525.2,498.4 L1525.3,500.0 L1525.4,501.5 L1525.5,503.0 L1525.6,504.6 L1525.6,506.1 L1525.7,507.6 L1525.8,509.1 L1525.9,510.6 L1526.0,512.1 L1526.1,513.5 L1526.2,515.0 L1526.3,516.4 L1526.4,517.9 L1526.5,519.3 L1526.6,520.7 L1526.7,522.1 L1526.8,523.5 L1526.9,524.8 L1527.0,526.2 L1527.1,527.5 L1527.3,528.8 L1527.4,530.1 L1527.5,531.4 L1527.6,532.7 L1527.7,534.0 L1527.8,535.2 L1527.9,536.4 L1528.1,537.6 L1528.2,538.8 L1528.3,540.0 L1528.5,541.8 L1528.7,543.6 L1528.8,545.4 L1529.0,547.2 L1529.2,548.9 L1529.3,550.7 L1529.5,552.3 L1529.7,554.0 L1529.8,555.7 L1530.0,557.3 L1530.1,558.9 L1530.3,560.5 L1530.5,562.0 L1530.6,563.6 L1530.8,565.1 L1531.0,566.5 L1531.2,568.0 L1531.5,569.4 L1531.7,570.8 L1531.9,572.2 L1532.2,573.5 L1532.5,574.8 L1532.8,576.1 L1533.1,577.4 L1533.4,578.6 L1533.8,579.8 L1534.2,581.0 L1534.6,582.2 L1535.0,583.3 L1535.7,585.0 L1536.4,586.6 L1537.1,588.1 L1537.9,589.6 L1538.7,591.0 L1539.5,592.4 L1540.4,593.7 L1541.3,594.9 L1542.3,596.1 L1543.3,597.2 L1544.4,598.2 L1545.5,599.1 L1546.7,600.0 L1548.0,600.8 L1549.3,601.5 L1550.7,602.1 L1552.1,602.6 L1553.6,603.1 L1555.2,603.5 L1556.8,603.8 L1558.4,604.1 L1560.0,604.3 L1561.7,604.5 L1563.4,604.7 L1565.0,604.9 L1566.7,605.0 L1568.1,605.1 L1569.5,605.1 L1571.0,605.1 L1572.5,605.1 L1574.0,605.0 L1575.5,604.9 L1577.0,604.8 L1578.5,604.7 L1580.1,604.5 L1581.6,604.3 L1583.2,604.2 L1584.7,604.0 L1586.3,603.8 L1587.8,603.6 L1589.4,603.4 L1590.9,603.3 L1592.5,603.1 L1594.0,603.0" fill="none" stroke="#2ca02c" stroke-width="5.0" stroke-linejoin="round" stroke-linecap="butt"/>
<path d="M936.0,651.0 L937.4,650.6 L938.9,650.1 L940.3,649.7 L941.8,649.2 L943.2,648.8 L944.6,648.3 L946.1,647.9 L947.5,647.4 L948.9,646.9 L950.3,646.5 L951.8,646.0 L953.2,645.5 L954.6,645.0 L956.0,644.5 L957.5,644.1 L958.9,643.6 L960.3,643.1 L961.7,642.6 L963.1,642.1 L964.5,641.5 L966.0,641.0 L967.4,640.5 L968.8,640.0 L970.2,639.5 L971.6,639.0 L973.0,638.4 L974.4,637.9 L975.8,637.4 L977.2,636.8 L978.6,636.3 L980.0,635.7 L981.4,635.2 L982.8,634.7 L984.2,634.1 L985.6,633.5 L987.0,633.0 L988.4,632.4 L989.8,631.9 L991.2,631.3 L992.6,630.7 L994.0,630.2 L995.4,629.6 L996.8,629.0 L998.1,628.5 L999.5,627.9 L1000.9,627.3 L1002.3,626.7 L1003.7,626.1 L1005.1,625.5 L1006.5,625.0 L1007.8,624.4 L1009.2,623.8 L1010.6,623.2 L1012.0,622.6 L1013.4,622.0 L1014.8,621.4 L1016.1,620.8 L1017.5,620.2 L1018.9,619.6 L1020.3,619.0 L1021.6,618.4 L1023.0,617.8 L1024.4,617.2 L1025.8,616.6 L1027.2,616.0 L1028.5,615.3 L1029.9,614.7 L1031.3,614.1 L1032.7,613.5 L1034.0,612.9 L1035.4,612.3 L1036.8,611.7 L1038.1,611.0 L1039.5,610.4 L1040.9,609.8 L1042.3,609.2 L1043.6,608.6 L1045.0,607.9 L1046.4,607.3 L1047.7,606.7 L1049.1,606.1 L1050.5,605.4 L1051.9,604.8 L1053.2,604.2 L1054.6,603.6 L1056.0,602.9 L1057.3,602.3 L1058.7,601.7 L1060.1,601.1 L1061.5,600.5 L1062.8,599.8 L1064.2,599.2 L1065.6,598.6 L1066.9,598.0 L1068.3,597.3 L1069.7,596.7 L1071.1,596.1 L1072.4,595.5 L1073.8,594.9 L1075.2,594.2 L1076.5,593.6 L1077.9,593.0 L1079.3,592.4 L1080.7,591.8 L1082.0,591.1 L1083.4,590.5 L1084.8,589.9 L1086.2,589.3 L1087.5,588.7 L1088.9,588.1 L1090.3,587.5 L1091.7,586.9 L1093.0,586.2 L1094.4,585.6 L1095.8,585.0 L1097.2,584.4 L1098.5,583.8 L1099.9,583.2 L1101.3,582.6 L1102.7,582.0 L1104.1,581.4 L1105.4,580.8 L1106.8,580.2 L1108.2,579.6 L1109.6,579.1 L1111.0,578.5 L1112.4,577.9 L1113.7,577.3 L1115.1,576.7 L1116.5,576.1 L1117.9,575.6 L1119.3,575.0 L1120.7,574.4 L1122.1,573.8 L1123.5,573.3 L1124.9,572.7 L1126.2,572.1 L1127.6,571.6 L1129.0,571.0 L1130.4,570.5 L1131.8,569.9 L1133.2,569.3 L1134.6,568.8 L1136.0,568.2 L1137.4,567.7 L1138.8,567.2 L1140.2,566.6 L1141.6,566.1 L1143.0,565.6 L1144.4,565.0 L1145.9,564.5 L1147.3,564.0 L1148.7,563.5 L1150.1,563.0 L1151.5,562.5 L1152.9,562.0 L1154.3,561.5 L1155.7,561.0 L1157.2,560.5 L1158.6,560.0 L1160.0,559.5 L1161.4,559.1 L1162.8,558.6 L1164.3,558.2 L1165.7,557.7 L1167.1,557.3 L1168.6,556.8 L1170.0,556.4 L1171.4,556.0 L1172.9,555.5 L1174.3,555.1 L1175.7,554.7 L1177.2,554.3 L1178.6,554.0 L1180.1,553.6 L1181.5,553.2 L1183.0,552.8 L1184.4,552.5 L1185.9,552.1 L1187.3,551.8 L1188.8,551.5 L1190.2,551.1 L1191.7,550.8 L1193.1,550.5 L1194.6,550.2 L1196.1,549.9 L1197.5,549.6 L1199.0,549.3 L1200.5,549.0 L1201.9,548.8 L1203.4,548.5 L1204.9,548.2 L1206.4,548.0 L1207.8,547.7 L1209.3,547.4 L1210.8,547.2 L1212.3,546.9 L1213.7,546.7 L1215.2,546.4 L1216.7,546.2 L1218.2,545.9 L1219.7,545.7 L1221.2,545.5 L1222.6,545.2 L1224.1,545.0 L1225.6,544.7 L1227.1,544.5 L1228.6,544.2 L1230.1,544.0 L1231.6,543.8 L1233.1,543.5 L1234.5,543.3 L1236.0,543.0 L1237.5,542.8 L1239.0,542.5 L1240.5,542.2 L1242.0,542.0 L1243.5,541.7 L1245.0,541.5 L1246.5,541.2 L1248.0,540.9 L1249.5,540.6 L1251.0,540.4 L1252.4,540.1 L1253.9,539.8 L1255.4,539.5 L1256.9,539.2 L1258.4,538.9 L1259.9,538.5 L1261.4,538.2 L1262.9,537.9 L1264.3,537.6 L1265.8,537.2 L1267.3,536.9 L1268.8,536.5 L1270.2,536.1 L1271.7,535.8 L1273.2,535.4 L1274.6,535.0 L1276.1,534.6 L1277.6,534.2 L1279.0,533.8 L1280.5,533.4 L1281.9,532.9 L1283.3,532.5 L1284.8,532.0 L1286.2,531.6 L1287.6,531.1 L1289.1,530.6 L1290.5,530.1 L1291.9,529.6 L1293.3,529.1 L1294.7,528.6 L1296.1,528.1 L1297.5,527.5 L1298.9,527.0 L1300.3,526.4 L1301.6,525.8 L1303.0,525.2 L1304.4,524.6 L1305.7,524.0 L1307.1,523.3 L1308.4,522.7 L1309.7,522.0 L1311.1,521.4 L1312.4,520.7 L1313.7,520.0 L1315.0,519.2 L1316.3,518.5 L1317.6,517.8 L1318.9,517.0 L1320.1,516.2 L1321.4,515.4 L1322.6,514.6 L1323.9,513.8 L1325.1,513.0 L1326.3,512.1 L1327.6,511.2 L1328.8,510.3 L1330.0,509.4 L1331.1,508.5 L1332.3,507.6 L1333.5,506.7 L1334.6,505.7 L1335.8,504.7 L1336.9,503.8 L1338.0,502.8 L1339.1,501.8 L1340.2,500.7 L1341.3,499.7 L1342.4,498.7 L1343.5,497.6 L1344.5,496.5 L1345.6,495.5 L1346.6,494.4 L1347.6,493.3 L1348.6,492.1 L1349.6,491.0 L1350.6,489.9 L1351.6,488.7 L1352.5,487.6 L1353.5,486.4 L1354.4,485.2 L1355.3,484.0 L1356.2,482.8 L1357.1,481.6 L1357.9,480.4 L1358.8,479.2 L1359.7,478.0 L1360.5,476.7 L1361.3,475.5 L1362.1,474.2 L1362.9,472.9 L1363.7,471.7 L1364.5,470.4 L1365.3,469.1 L1366.0,467.8 L1366.8,466.5 L1367.5,465.2 L1368.2,463.8 L1368.9,462.5 L1369.6,461.2 L1370.3,459.8 L1371.0,458.5 L1371.7,457.1 L1372.3,455.8 L1373.0,454.4 L1373.6,453.1 L1374.3,451.7 L1374.9,450.3 L1375.5,448.9 L1376.1,447.5 L1376.7,446.2 L1377.3,444.8 L1377.9,443.4 L1378.5,442.0 L1379.0,440.6 L1379.6,439.2 L1380.1,437.7 L1380.7,436.3 L1381.2,434.9 L1381.7,433.5 L1382.2,432.1 L1382.8,430.7 L1383.3,429.2 L1383.8,427.8 L1384.2,426.4 L1384.7,425.0 L1385.2,423.5 L1385.7,422.1 L1386.2,420.7 L1386.6,419.2 L1387.1,417.8 L1387.5,416.4 L1388.0,414.9 L1388.4,413.5 L1388.8,412.0 L1389.3,410.6 L1389.7,409.1 L1390.1,407.7 L1390.5,406.2 L1390.9,404.8 L1391.3,403.3 L1391.7,401.9 L1392.1,400.4 L1392.5,399.0 L1392.9,397.5 L1393.3,396.1 L1393.7,394.6 L1394.1,393.2 L1394.5,391.7 L1394.8,390.3 L1395.2,388.8 L1395.6,387.3 L1395.9,385.9 L1396.3,384.4 L1396.7,383.0 L1397.0,381.5 L1397.4,380.0 L1397.7,378.6 L1398.1,377.1 L1398.4,375.6 L1398.8,374.2 L1399.1,372.7 L1399.5,371.3 L1399.8,369.8 L1400.2,368.3 L1400.5,366.9 L1400.8,365.4 L1401.2,363.9 L1401.5,362.5 L1401.9,361.0 L1402.2,359.6 L1402.5,358.1 L1402.9,356.6 L1403.2,355.2 L1403.6,353.7 L1403.9,352.3 L1404.3,350.8 L1404.6,349.3 L1404.9,347.9 L1405.3,346.4 L1405.6,345.0 L1406.0,343.5 L1406.3,342.1 L1406.7,340.6 L1407.0,339.1 L1407.4,337.7 L1407.8,336.2 L1408.1,334.8 L1408.5,333.3 L1408.8,331.9 L1409.2,330.4 L1409.6,329.0 L1409.9,327.6 L1410.3,326.1 L1410.7,324.7 L1411.0,323.2 L1411.4,321.8 L1411.8,320.3 L1412.2,318.9 L1412.5,317.4 L1412.9,316.0 L1413.3,314.6 L1413.7,313.1 L1414.1,311.7 L1414.5,310.2 L1414.8,308.8 L1415.2,307.3 L1415.6,305.9 L1416.0,304.5 L1416.4,303.0 L1416.8,301.6 L1417.2,300.1 L1417.6,298.7 L1418.0,297.2 L1418.4,295.8 L1418.8,294.4 L1419.2,292.9 L1419.6,291.5 L1420.0,290.0 L1420.4,288.6 L1420.8,287.1 L1421.2,285.7 L1421.6,284.2 L1422.0,282.8 L1422.4,281.3 L1422.8,279.9 L1423.2,278.4 L1423.6,277.0 L1424.0,275.5 L1424.4,274.1 L1424.8,272.6 L1425.2,271.2 L1425.6,269.7 L1426.1,268.3 L1426.5,266.8 L1426.9,265.3 L1427.3,263.9 L1427.7,262.4 L1428.1,261.0 L1428.5,259.5 L1429.0,258.0 L1429.4,256.6 L1429.8,255.1 L1430.2,253.6 L1430.7,252.2 L1431.1,250.7 L1431.5,249.3 L1432.0,247.8 L1432.4,246.3 L1432.8,244.9 L1433.3,243.4 L1433.7,242.0 L1434.2,240.5 L1434.6,239.1 L1435.1,237.6 L1435.5,236.2 L1436.0,234.7 L1436.5,233.3 L1437.0,231.8 L1437.4,230.4 L1437.9,229.0 L1438.4,227.5 L1438.9,226.1 L1439.4,224.7 L1439.9,223.2 L1440.4,221.8 L1440.9,220.4 L1441.5,219.0 L1442.0,217.6 L1442.5,216.1 L1443.1,214.7 L1443.6,213.3 L1444.2,211.9 L1444.7,210.5 L1445.3,209.1 L1445.9,207.8 L1446.4,206.4 L1447.0,205.0 L1447.6,203.6 L1448.2,202.3 L1448.8,200.9 L1449.5,199.5 L1450.1,198.2 L1450.7,196.8 L1451.4,195.5 L1452.0,194.2 L1452.7,192.8 L1453.4,191.5 L1454.0,190.2 L1454.7,188.9 L1455.4,187.6 L1456.1,186.3 L1456.9,185.0 L1457.6,183.7 L1458.3,182.4 L1459.1,181.1 L1459.8,179.9 L1460.6,178.6 L1461.4,177.3 L1462.2,176.1 L1463.0,174.9 L1463.8,173.6 L1464.6,172.4 L1465.5,171.2 L1466.3,170.0 L1467.2,168.8 L1468.0,167.6 L1468.9,166.4 L1469.8,165.2 L1470.7,164.1 L1471.6,162.9 L1472.6,161.8 L1473.5,160.6 L1474.5,159.5 L1475.5,158.4 L1476.4,157.3 L1477.4,156.2 L1478.5,155.1 L1479.5,154.0 L1480.5,152.9 L1481.6,151.9 L1482.6,150.8 L1483.7,149.8 L1484.8,148.8 L1485.9,147.8 L1487.1,146.7 L1488.2,145.7 L1489.4,144.8 L1490.5,143.8 L1491.7,142.8 L1492.9,141.9 L1494.2,140.9 L1495.4,140.0 L1496.6,139.1 L1497.9,138.2 L1499.2,137.3 L1500.5,136.4 L1502.4,136.4 L1504.3,136.4 L1506.0,137.0 L1507.0,138.0 L1507.9,139.4 L1508.7,141.1 L1509.4,143.0 L1510.0,145.0 L1510.3,146.2 L1510.6,147.5 L1510.9,148.8 L1511.1,150.1 L1511.3,151.6 L1511.5,153.0 L1511.6,154.6 L1511.8,156.1 L1511.9,157.8 L1512.0,159.5 L1512.2,161.2 L1512.3,163.0 L1512.4,164.2 L1512.5,165.5 L1512.6,166.8 L1512.7,168.1 L1512.7,169.5 L1512.8,170.9 L1512.9,172.4 L1512.9,173.9 L1513.0,175.4 L1513.1,176.9 L1513.1,178.4 L1513.2,180.0 L1513.2,181.6 L1513.3,183.2 L1513.3,184.8 L1513.4,186.4 L1513.4,188.1 L1513.5,189.7 L1513.5,191.3 L1513.6,193.0 L1513.6,194.6 L1513.7,196.2 L1513.7,197.8 L1513.8,199.4 L1513.8,201.0 L1513.9,202.6 L1513.9,204.2 L1514.0,205.7 L1514.1,207.2 L1514.1,208.8 L1514.2,210.3 L1514.2,211.8 L1514.3,213.3 L1514.4,214.8 L1514.4,216.3 L1514.5,217.9 L1514.6,219.4 L1514.6,220.9 L1514.7,222.4 L1514.7,223.9 L1514.8,225.4 L1514.9,226.9 L1514.9,228.4 L1515.0,230.0 L1515.1,231.5 L1515.1,233.0 L1515.2,234.6 L1515.2,236.1 L1515.3,237.6 L1515.4,239.2 L1515.4,240.7 L1515.5,242.3 L1515.5,243.9 L1515.6,245.4 L1515.6,247.0 L1515.7,248.6 L1515.8,250.1 L1515.8,251.5 L1515.9,253.0 L1515.9,254.4 L1516.0,255.8 L1516.0,257.3 L1516.1,258.7 L1516.1,260.1 L1516.1,261.6 L1516.2,263.0 L1516.2,264.4 L1516.3,265.9 L1516.3,267.3 L1516.4,268.8 L1516.4,270.2 L1516.5,271.7 L1516.5,273.2 L1516.6,274.6 L1516.6,276.1 L1516.7,277.6 L1516.7,279.2 L1516.7,280.7 L1516.8,282.2 L1516.8,283.8 L1516.9,285.4 L1516.9,287.0 L1517.0,288.6 L1517.0,290.3 L1517.0,292.0 L1517.1,293.7 L1517.1,295.4 L1517.2,297.1 L1517.2,298.9 L1517.2,300.2 L1517.3,301.4 L1517.3,302.8 L1517.3,304.1 L1517.3,305.4 L1517.3,306.8 L1517.4,308.2 L1517.4,309.6 L1517.4,311.1 L1517.4,312.5 L1517.5,314.0 L1517.5,315.5 L1517.5,317.0 L1517.5,318.5 L1517.5,320.1 L1517.5,321.6 L1517.6,323.2 L1517.6,324.8 L1517.6,326.4 L1517.6,328.0 L1517.6,329.6 L1517.7,331.2 L1517.7,332.8 L1517.7,334.4 L1517.7,336.1 L1517.7,337.7 L1517.7,339.4 L1517.7,341.0 L1517.8,342.7 L1517.8,344.3 L1517.8,346.0 L1517.8,347.7 L1517.8,349.3 L1517.8,351.0 L1517.9,352.6 L1517.9,354.3 L1517.9,355.9 L1517.9,357.6 L1517.9,359.2 L1517.9,360.9 L1517.9,362.5 L1518.0,364.1 L1518.0,365.7 L1518.0,367.4 L1518.0,368.9 L1518.0,370.5 L1518.0,372.1 L1518.1,373.7 L1518.1,375.2 L1518.1,376.8 L1518.1,378.3 L1518.1,379.8 L1518.2,381.3 L1518.2,382.8 L1518.2,384.2 L1518.2,385.6 L1518.2,387.1 L1518.3,388.5 L1518.3,389.8 L1518.3,391.2 L1518.3,392.5 L1518.4,393.8 L1518.4,395.1 L1518.4,396.4 L1518.4,397.6 L1518.5,398.8 L1518.5,400.0 L1518.5,401.8 L1518.6,403.6 L1518.7,405.3 L1518.7,407.0 L1518.8,408.6 L1518.8,410.1 L1518.9,411.6 L1518.9,413.1 L1519.0,414.5 L1519.1,415.9 L1519.1,417.3 L1519.2,418.6 L1519.2,420.0 L1519.3,421.4 L1519.4,422.7 L1519.4,424.1 L1519.5,425.5 L1519.5,427.0 L1519.6,428.4 L1519.7,429.9 L1519.7,431.4 L1519.8,433.0 L1519.8,434.7 L1519.9,436.4 L1519.9,438.2 L1520.0,440.0 L1520.0,441.2 L1520.1,442.4 L1520.1,443.6 L1520.1,444.9 L1520.1,446.2 L1520.2,447.5 L1520.2,448.8 L1520.2,450.1 L1520.3,451.5 L1520.3,452.9 L1520.3,454.3 L1520.3,455.7 L1520.3,457.2 L1520.4,458.6 L1520.4,460.1 L1520.4,461.6 L1520.4,463.1 L1520.5,464.6 L1520.5,466.1 L1520.5,467.6 L1520.5,469.2 L1520.5,470.7 L1520.6,472.3 L1520.6,473.9 L1520.6,475.5 L1520.6,477.1 L1520.6,478.7 L1520.6,480.3 L1520.7,481.9 L1520.7,483.5 L1520.7,485.2 L1520.7,486.8 L1520.7,488.4 L1520.8,490.1 L1520.8,491.7 L1520.8,493.4 L1520.8,495.0 L1520.8,496.7 L1520.9,498.3 L1520.9,500.0 L1520.9,501.6 L1520.9,503.2 L1520.9,504.9 L1521.0,506.5 L1521.0,508.1 L1521.0,509.7 L1521.0,511.4 L1521.1,513.0 L1521.1,514.6 L1521.1,516.2 L1521.2,517.7 L1521.2,519.3 L1521.2,520.9 L1521.2,522.4 L1521.3,524.0 L1521.3,525.5 L1521.3,527.0 L1521.4,528.5 L1521.4,530.0 L1521.5,531.5 L1521.5,533.0 L1521.5,534.4 L1521.6,535.8 L1521.6,537.2 L1521.7,538.6 L1521.7,540.0 L1521.8,541.7 L1521.8,543.3 L1521.9,545.0 L1521.9,546.7 L1522.0,548.3 L1522.0,550.0 L1522.1,551.6 L1522.1,553.3 L1522.2,554.9 L1522.2,556.5 L1522.3,558.2 L1522.4,559.8 L1522.4,561.4 L1522.5,563.0 L1522.5,564.6 L1522.6,566.2 L1522.6,567.8 L1522.7,569.4 L1522.8,571.0 L1522.8,572.5 L1522.9,574.1 L1523.0,575.6 L1523.0,577.2 L1523.1,578.7 L1523.2,580.2 L1523.3,581.7 L1523.3,583.2 L1523.4,584.7 L1523.5,586.2 L1523.6,587.7 L1523.7,589.1 L1523.7,590.5 L1523.8,592.0 L1523.9,593.4 L1524.0,594.8 L1524.1,596.2 L1524.2,597.5 L1524.3,598.9 L1524.4,600.2 L1524.5,601.6 L1524.6,602.9 L1524.8,604.2 L1524.9,605.4 L1525.0,606.7 L1525.2,608.5 L1525.3,610.2 L1525.5,612.0 L1525.6,613.7 L1525.8,615.4 L1525.9,617.1 L1526.0,618.8 L1526.2,620.5 L1526.3,622.1 L1526.5,623.7 L1526.6,625.3 L1526.8,626.8 L1527.0,628.3 L1527.2,629.8 L1527.5,631.2 L1527.7,632.6 L1528.0,634.0 L1528.4,635.3 L1528.7,636.5 L1529.1,637.7 L1529.5,638.9 L1530.0,640.0 L1530.7,641.6 L1531.5,643.0 L1532.4,644.4 L1533.2,645.8 L1534.2,647.0 L1535.2,648.1 L1536.2,649.1 L1537.4,650.1 L1538.7,650.9 L1540.0,651.7 L1541.2,652.2 L1542.5,652.7 L1543.8,653.0 L1545.3,653.2 L1546.8,653.4 L1548.3,653.6 L1549.9,653.6 L1551.5,653.7 L1553.2,653.6 L1554.9,653.6 L1556.5,653.5 L1558.2,653.5 L1559.9,653.4 L1561.6,653.3 L1563.3,653.3 L1564.7,653.3 L1566.2,653.2 L1567.7,653.1 L1569.2,653.0 L1570.7,652.9 L1572.2,652.7 L1573.7,652.6 L1575.3,652.4 L1576.8,652.2 L1578.4,652.0 L1580.0,651.8 L1581.5,651.6 L1583.1,651.4 L1584.7,651.2 L1586.2,651.0 L1587.8,650.7 L1589.4,650.5 L1590.9,650.4 L1592.5,650.2 L1594.0,650.0" fill="none" stroke="#d62728" stroke-width="5.0" stroke-linejoin="round" stroke-linecap="butt"/>
</g>
<rect x="147.8" y="7.3" width="657.40" height="737.40" fill="none" stroke="#222222" stroke-width="4.2" stroke-linejoin="miter"/>
<rect x="936.6" y="7.3" width="656.10" height="737.40" fill="none" stroke="#222222" stroke-width="4.2" stroke-linejoin="miter"/>
<g font-size="36">
<text x="214.88" y="781.5" text-anchor="middle">0.2</text>
<text x="349.04" y="781.5" text-anchor="middle">0.4</text>
<text x="483.21" y="781.5" text-anchor="middle">0.6</text>
<text x="617.37" y="781.5" text-anchor="middle">0.8</text>
<text x="751.53" y="781.5" text-anchor="middle">1.0</text>
<text x="1003.55" y="781.5" text-anchor="middle">0.2</text>
<text x="1137.45" y="781.5" text-anchor="middle">0.4</text>
<text x="1271.34" y="781.5" text-anchor="middle">0.6</text>
<text x="1405.24" y="781.5" text-anchor="middle">0.8</text>
<text x="1539.14" y="781.5" text-anchor="middle">1.0</text>
<text x="134.50" y="730.20" text-anchor="end">0.00</text>
<text x="134.50" y="634.17" text-anchor="end">0.25</text>
<text x="134.50" y="538.14" text-anchor="end">0.50</text>
<text x="134.50" y="442.11" text-anchor="end">0.75</text>
<text x="134.50" y="346.08" text-anchor="end">1.00</text>
<text x="134.50" y="250.05" text-anchor="end">1.25</text>
<text x="134.50" y="154.02" text-anchor="end">1.50</text>
<text x="134.50" y="57.99" text-anchor="end">1.75</text>
<text x="923.30" y="670.80" text-anchor="end">0.0</text>
<text x="923.30" y="554.66" text-anchor="end">0.5</text>
<text x="923.30" y="438.52" text-anchor="end">1.0</text>
<text x="923.30" y="322.38" text-anchor="end">1.5</text>
<text x="923.30" y="206.24" text-anchor="end">2.0</text>
<text x="923.30" y="90.10" text-anchor="end">2.5</text>
</g>
<text x="450.70" y="821.20" font-size="36" class="it">ρ</text><text x="469.40" y="831.00" font-size="25.2" class="it">pol</text>
<text x="1238.85" y="821.20" font-size="36" class="it">ρ</text><text x="1257.55" y="831.00" font-size="25.2" class="it">pol</text>
<text transform="translate(40.7,476) rotate(-90)"><tspan x="4.60" y="0.00" font-size="36" class="it">A</tspan><tspan x="25.60" y="9.20" font-size="25.2" class="it">n</tspan><tspan x="38.10" y="15.70" font-size="17.6" class="it">e</tspan><tspan x="48.20" y="0.00" font-size="36">/</tspan><tspan x="59.50" y="0.00" font-size="36">1</tspan><tspan x="75.60" y="0.00" font-size="36">0</tspan><tspan x="94.80" y="-20.50" font-size="25.2">1</tspan><tspan x="106.50" y="-20.50" font-size="25.2">8</tspan><tspan x="120.60" y="0.00" font-size="36">(</tspan><tspan x="131.70" y="0.00" font-size="36" class="it">m</tspan><tspan x="156.70" y="-21.00" font-size="25.2">−</tspan><tspan x="170.80" y="-21.00" font-size="25.2">3</tspan><tspan x="185.80" y="0.00" font-size="36">)</tspan></text>
<text transform="translate(855,375.5) rotate(-90)" font-size="36" text-anchor="middle"><tspan class="it">ϕ</tspan><tspan>(</tspan><tspan class="it">rad</tspan><tspan>)</tspan></text>
<line x1="179.5" y1="51.3" x2="249.3" y2="51.3" stroke="#1f77b4" stroke-width="5.0" stroke-linecap="round"/>
<line x1="179.5" y1="101.4" x2="249.3" y2="101.4" stroke="#ff7f0e" stroke-width="5.0" stroke-linecap="round"/>
<line x1="179.5" y1="153.8" x2="249.3" y2="153.8" stroke="#2ca02c" stroke-width="5.0" stroke-linecap="round"/>
<line x1="179.5" y1="208.1" x2="249.3" y2="208.1" stroke="#d62728" stroke-width="5.0" stroke-linecap="round"/>
<text x="279.30" y="64.50" font-size="36">exp</text><text x="279.30" y="114.40" font-size="36">opt</text><text x="280.20" y="165.50" font-size="36" class="it">ϕ</text><text x="299.70" y="174.70" font-size="25.2" class="it">S</text><text x="321.20" y="165.50" font-size="36">+</text><text x="350.90" y="165.50" font-size="36">2ms</text><text x="280.00" y="220.70" font-size="36" class="it">ϕ</text><text x="299.70" y="229.50" font-size="25.2" class="it">S</text><text x="322.60" y="220.70" font-size="36">-</text><text x="342.40" y="220.70" font-size="36">2ms</text>
<line x1="968.3" y1="51.3" x2="1038.1" y2="51.3" stroke="#1f77b4" stroke-width="5.0" stroke-linecap="round"/>
<line x1="968.3" y1="101.4" x2="1038.1" y2="101.4" stroke="#ff7f0e" stroke-width="5.0" stroke-linecap="round"/>
<line x1="968.3" y1="153.8" x2="1038.1" y2="153.8" stroke="#2ca02c" stroke-width="5.0" stroke-linecap="round"/>
<line x1="968.3" y1="208.1" x2="1038.1" y2="208.1" stroke="#d62728" stroke-width="5.0" stroke-linecap="round"/>
<text x="1068.10" y="64.50" font-size="36">exp</text><text x="1068.10" y="114.40" font-size="36">opt</text><text x="1069.00" y="165.50" font-size="36" class="it">ϕ</text><text x="1088.50" y="174.70" font-size="25.2" class="it">S</text><text x="1110.00" y="165.50" font-size="36">+</text><text x="1139.70" y="165.50" font-size="36">2ms</text><text x="1068.80" y="220.70" font-size="36" class="it">ϕ</text><text x="1088.50" y="229.50" font-size="25.2" class="it">S</text><text x="1111.40" y="220.70" font-size="36">-</text><text x="1131.20" y="220.70" font-size="36">2ms</text>
</svg></body></html>
